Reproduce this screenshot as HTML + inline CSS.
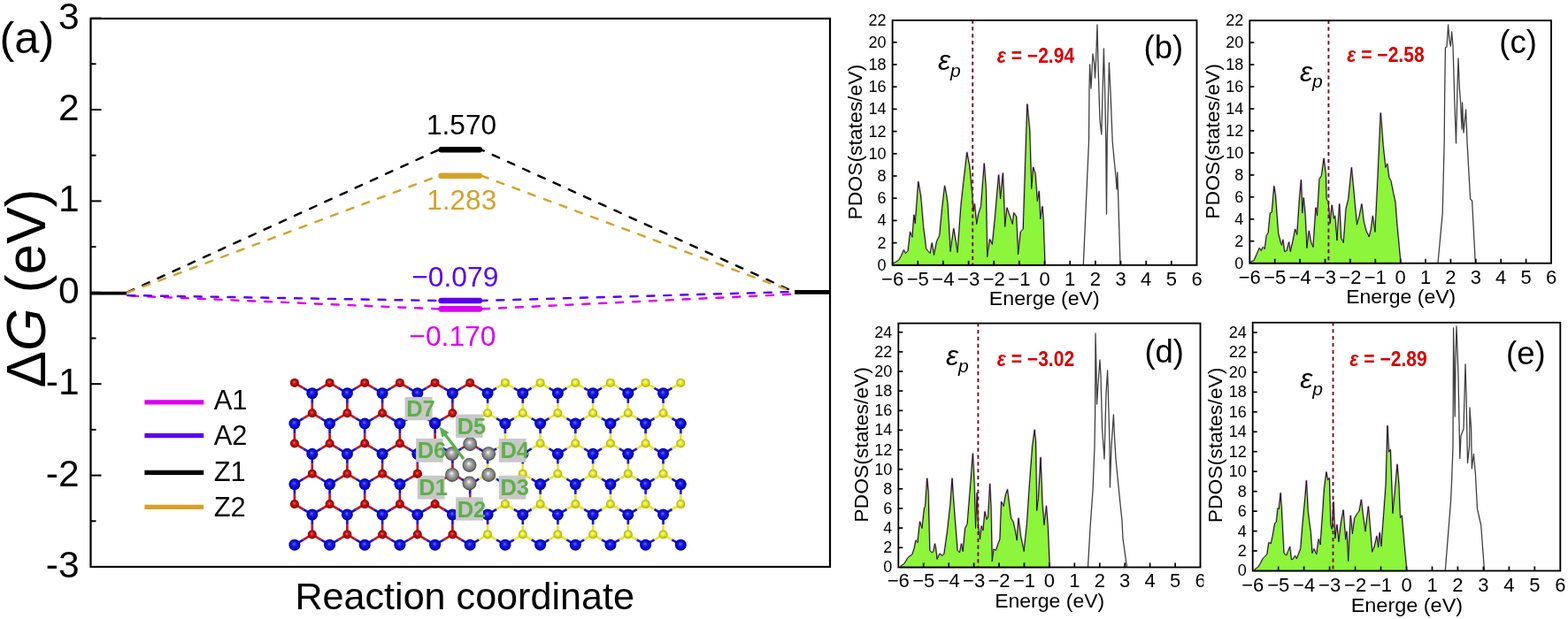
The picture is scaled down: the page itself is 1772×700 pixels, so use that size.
<!DOCTYPE html>
<html><head><meta charset="utf-8"><style>
html,body{margin:0;padding:0;background:#fff;overflow:hidden;}
svg{display:block;}
</style></head><body>
<svg width="1772" height="700" viewBox="0 0 1772 700" font-family="'Liberation Sans', Arial, sans-serif">
<defs>
<radialGradient id="gb" cx="50%" cy="50%" r="50%" fx="45%" fy="40%">
 <stop offset="0" stop-color="#7070ff"/><stop offset="0.35" stop-color="#1a1aee"/><stop offset="1" stop-color="#0000a0"/></radialGradient>
<radialGradient id="gr" cx="50%" cy="50%" r="50%" fx="45%" fy="40%">
 <stop offset="0" stop-color="#f07070"/><stop offset="0.35" stop-color="#cc1818"/><stop offset="1" stop-color="#8a0000"/></radialGradient>
<radialGradient id="gy" cx="50%" cy="50%" r="50%" fx="45%" fy="40%">
 <stop offset="0" stop-color="#ffffb0"/><stop offset="0.35" stop-color="#f0f040"/><stop offset="1" stop-color="#b0b000"/></radialGradient>
<radialGradient id="gg" cx="50%" cy="50%" r="50%" fx="45%" fy="38%">
 <stop offset="0" stop-color="#ffffff"/><stop offset="0.3" stop-color="#b4b4b4"/><stop offset="0.8" stop-color="#787878"/><stop offset="1" stop-color="#3c3c3c"/></radialGradient>
<clipPath id="clipd6"><rect x="1300" y="640" width="60.3" height="60"/></clipPath></defs>
<rect width="1772" height="700" fill="#fff"/>
<line x1="143.0" y1="331.0" x2="496.0" y2="169.3" stroke="#000000" stroke-width="2.45" stroke-dasharray="8 10.9" stroke-dashoffset="-1.1" stroke-linecap="round"/>
<line x1="544.0" y1="169.3" x2="898.0" y2="330.3" stroke="#000000" stroke-width="2.45" stroke-dasharray="8 10.9" stroke-dashoffset="4.9" stroke-linecap="round"/>
<line x1="143.0" y1="331.2" x2="496.0" y2="198.7" stroke="#D6A12B" stroke-width="2.45" stroke-dasharray="8 10.9" stroke-dashoffset="-1.1" stroke-linecap="round"/>
<line x1="544.0" y1="198.7" x2="898.0" y2="330.6" stroke="#D6A12B" stroke-width="2.45" stroke-dasharray="8 10.9" stroke-dashoffset="0" stroke-linecap="round"/>
<line x1="143.0" y1="334.3" x2="496.0" y2="349.4" stroke="#DC00F5" stroke-width="2.45" stroke-dasharray="8 10.9" stroke-dashoffset="-5.1" stroke-linecap="round"/>
<line x1="544.0" y1="349.4" x2="898.0" y2="332.6" stroke="#DC00F5" stroke-width="2.45" stroke-dasharray="8 10.9" stroke-dashoffset="-1.1" stroke-linecap="round"/>
<line x1="143.0" y1="334.0" x2="496.0" y2="340.0" stroke="#5A00F2" stroke-width="2.45" stroke-dasharray="8 10.9" stroke-dashoffset="-1.1" stroke-linecap="round"/>
<line x1="544.0" y1="340.0" x2="898.0" y2="329.9" stroke="#5A00F2" stroke-width="2.45" stroke-dasharray="8 10.9" stroke-dashoffset="1.5" stroke-linecap="round"/>
<line x1="498.7" y1="169.3" x2="541.8" y2="169.3" stroke="#000000" stroke-width="6.6" stroke-linecap="round"/>
<line x1="498.7" y1="198.7" x2="541.8" y2="198.7" stroke="#D6A12B" stroke-width="6.6" stroke-linecap="round"/>
<line x1="498.7" y1="349.4" x2="541.8" y2="349.4" stroke="#DC00F5" stroke-width="6.6" stroke-linecap="round"/>
<line x1="498.7" y1="340.0" x2="541.8" y2="340.0" stroke="#5A00F2" stroke-width="6.6" stroke-linecap="round"/>
<line x1="102.5" y1="331.6" x2="143.0" y2="331.6" stroke="#000" stroke-width="3.8"/>
<line x1="898.0" y1="330.4" x2="938.0" y2="330.4" stroke="#000" stroke-width="4.8"/>
<rect x="102.5" y="21.0" width="835.5" height="620.0" fill="none" stroke="#000" stroke-width="2.2"/>
<line x1="102.5" y1="641.0" x2="114.5" y2="641.0" stroke="#000" stroke-width="2"/>
<line x1="102.5" y1="589.3" x2="108.5" y2="589.3" stroke="#000" stroke-width="2"/>
<line x1="102.5" y1="537.6" x2="114.5" y2="537.6" stroke="#000" stroke-width="2"/>
<line x1="102.5" y1="485.9" x2="108.5" y2="485.9" stroke="#000" stroke-width="2"/>
<line x1="102.5" y1="434.2" x2="114.5" y2="434.2" stroke="#000" stroke-width="2"/>
<line x1="102.5" y1="382.5" x2="108.5" y2="382.5" stroke="#000" stroke-width="2"/>
<line x1="102.5" y1="330.8" x2="114.5" y2="330.8" stroke="#000" stroke-width="2"/>
<line x1="102.5" y1="279.1" x2="108.5" y2="279.1" stroke="#000" stroke-width="2"/>
<line x1="102.5" y1="227.4" x2="114.5" y2="227.4" stroke="#000" stroke-width="2"/>
<line x1="102.5" y1="175.7" x2="108.5" y2="175.7" stroke="#000" stroke-width="2"/>
<line x1="102.5" y1="124.0" x2="114.5" y2="124.0" stroke="#000" stroke-width="2"/>
<line x1="102.5" y1="72.3" x2="108.5" y2="72.3" stroke="#000" stroke-width="2"/>
<line x1="102.5" y1="20.6" x2="114.5" y2="20.6" stroke="#000" stroke-width="2"/>
<text x="89.6" y="653.0" font-size="42.5" text-anchor="end">-3</text>
<text x="89.6" y="549.6" font-size="42.5" text-anchor="end">-2</text>
<text x="89.6" y="446.2" font-size="42.5" text-anchor="end">-1</text>
<text x="89.6" y="342.8" font-size="42.5" text-anchor="end">0</text>
<text x="89.6" y="239.4" font-size="42.5" text-anchor="end">1</text>
<text x="89.6" y="136.0" font-size="42.5" text-anchor="end">2</text>
<text x="89.6" y="32.6" font-size="42.5" text-anchor="end">3</text>
<text x="-0.5" y="60" font-size="50.5">(a)</text>
<text transform="translate(51.4,326) rotate(-90)" font-size="62.3" text-anchor="middle">Δ<tspan font-style="italic">G</tspan> (eV)</text>
<text x="525.2" y="689.4" font-size="42.8" text-anchor="middle" textLength="383.5" lengthAdjust="spacingAndGlyphs">Reaction coordinate</text>
<text x="521.5" y="152" font-size="31.6" text-anchor="middle">1.570</text>
<text x="521.7" y="236.6" font-size="31.6" text-anchor="middle" fill="#D6A12B">1.283</text>
<text x="514.3" y="324.4" font-size="31.8" text-anchor="middle" fill="#5A00F2">−0.079</text>
<text x="511.4" y="391.3" font-size="31.8" text-anchor="middle" fill="#DC00F5">−0.170</text>
<line x1="163.4" y1="454.8" x2="230.2" y2="454.8" stroke="#DC00F5" stroke-width="5.3"/>
<text x="241.8" y="463" font-size="30.8">A1</text>
<line x1="163.4" y1="492.7" x2="230.2" y2="492.7" stroke="#5A00F2" stroke-width="5.3"/>
<text x="241.8" y="503" font-size="30.8">A2</text>
<line x1="163.4" y1="534.4" x2="230.2" y2="534.4" stroke="#000" stroke-width="5.3"/>
<text x="241.8" y="544.2" font-size="30.8">Z1</text>
<line x1="163.4" y1="573.3" x2="230.2" y2="573.3" stroke="#D6A12B" stroke-width="5.3"/>
<text x="241.8" y="584.2" font-size="30.8">Z2</text>
<line x1="332.9" y1="432.9" x2="342.8" y2="438.8" stroke="#C81414" stroke-width="2.7"/>
<line x1="342.8" y1="438.8" x2="352.8" y2="444.7" stroke="#1414E6" stroke-width="2.7"/>
<line x1="372.6" y1="432.9" x2="362.7" y2="438.8" stroke="#C81414" stroke-width="2.7"/>
<line x1="362.7" y1="438.8" x2="352.8" y2="444.7" stroke="#1414E6" stroke-width="2.7"/>
<line x1="372.6" y1="432.9" x2="382.5" y2="438.8" stroke="#C81414" stroke-width="2.7"/>
<line x1="382.5" y1="438.8" x2="392.4" y2="444.7" stroke="#1414E6" stroke-width="2.7"/>
<line x1="412.2" y1="432.9" x2="402.3" y2="438.8" stroke="#C81414" stroke-width="2.7"/>
<line x1="402.3" y1="438.8" x2="392.4" y2="444.7" stroke="#1414E6" stroke-width="2.7"/>
<line x1="412.2" y1="432.9" x2="422.2" y2="438.8" stroke="#C81414" stroke-width="2.7"/>
<line x1="422.2" y1="438.8" x2="432.1" y2="444.7" stroke="#1414E6" stroke-width="2.7"/>
<line x1="451.9" y1="432.9" x2="442.0" y2="438.8" stroke="#C81414" stroke-width="2.7"/>
<line x1="442.0" y1="438.8" x2="432.1" y2="444.7" stroke="#1414E6" stroke-width="2.7"/>
<line x1="451.9" y1="432.9" x2="461.8" y2="438.8" stroke="#C81414" stroke-width="2.7"/>
<line x1="461.8" y1="438.8" x2="471.8" y2="444.7" stroke="#1414E6" stroke-width="2.7"/>
<line x1="491.6" y1="432.9" x2="481.7" y2="438.8" stroke="#C81414" stroke-width="2.7"/>
<line x1="481.7" y1="438.8" x2="471.8" y2="444.7" stroke="#1414E6" stroke-width="2.7"/>
<line x1="491.6" y1="432.9" x2="501.5" y2="438.8" stroke="#C81414" stroke-width="2.7"/>
<line x1="501.5" y1="438.8" x2="511.4" y2="444.7" stroke="#1414E6" stroke-width="2.7"/>
<line x1="531.2" y1="432.9" x2="521.3" y2="438.8" stroke="#C81414" stroke-width="2.7"/>
<line x1="521.3" y1="438.8" x2="511.4" y2="444.7" stroke="#1414E6" stroke-width="2.7"/>
<line x1="531.2" y1="432.9" x2="541.2" y2="438.8" stroke="#C81414" stroke-width="2.7"/>
<line x1="541.2" y1="438.8" x2="551.1" y2="444.7" stroke="#1414E6" stroke-width="2.7"/>
<line x1="570.9" y1="432.9" x2="561.0" y2="438.8" stroke="#E6E632" stroke-width="2.7"/>
<line x1="561.0" y1="438.8" x2="551.1" y2="444.7" stroke="#1414E6" stroke-width="2.7"/>
<line x1="570.9" y1="432.9" x2="580.8" y2="438.8" stroke="#E6E632" stroke-width="2.7"/>
<line x1="580.8" y1="438.8" x2="590.8" y2="444.7" stroke="#1414E6" stroke-width="2.7"/>
<line x1="610.6" y1="432.9" x2="600.7" y2="438.8" stroke="#E6E632" stroke-width="2.7"/>
<line x1="600.7" y1="438.8" x2="590.8" y2="444.7" stroke="#1414E6" stroke-width="2.7"/>
<line x1="610.6" y1="432.9" x2="620.5" y2="438.8" stroke="#E6E632" stroke-width="2.7"/>
<line x1="620.5" y1="438.8" x2="630.4" y2="444.7" stroke="#1414E6" stroke-width="2.7"/>
<line x1="650.3" y1="432.9" x2="640.4" y2="438.8" stroke="#E6E632" stroke-width="2.7"/>
<line x1="640.4" y1="438.8" x2="630.4" y2="444.7" stroke="#1414E6" stroke-width="2.7"/>
<line x1="650.3" y1="432.9" x2="660.2" y2="438.8" stroke="#E6E632" stroke-width="2.7"/>
<line x1="660.2" y1="438.8" x2="670.1" y2="444.7" stroke="#1414E6" stroke-width="2.7"/>
<line x1="689.9" y1="432.9" x2="680.0" y2="438.8" stroke="#E6E632" stroke-width="2.7"/>
<line x1="680.0" y1="438.8" x2="670.1" y2="444.7" stroke="#1414E6" stroke-width="2.7"/>
<line x1="689.9" y1="432.9" x2="699.9" y2="438.8" stroke="#E6E632" stroke-width="2.7"/>
<line x1="699.9" y1="438.8" x2="709.8" y2="444.7" stroke="#1414E6" stroke-width="2.7"/>
<line x1="729.6" y1="432.9" x2="719.7" y2="438.8" stroke="#E6E632" stroke-width="2.7"/>
<line x1="719.7" y1="438.8" x2="709.8" y2="444.7" stroke="#1414E6" stroke-width="2.7"/>
<line x1="729.6" y1="432.9" x2="739.5" y2="438.8" stroke="#E6E632" stroke-width="2.7"/>
<line x1="739.5" y1="438.8" x2="749.5" y2="444.7" stroke="#1414E6" stroke-width="2.7"/>
<line x1="769.3" y1="432.9" x2="759.4" y2="438.8" stroke="#E6E632" stroke-width="2.7"/>
<line x1="759.4" y1="438.8" x2="749.5" y2="444.7" stroke="#1414E6" stroke-width="2.7"/>
<line x1="352.8" y1="467.2" x2="352.8" y2="455.9" stroke="#C81414" stroke-width="2.7"/>
<line x1="352.8" y1="455.9" x2="352.8" y2="444.7" stroke="#1414E6" stroke-width="2.7"/>
<line x1="352.8" y1="467.2" x2="342.8" y2="473.1" stroke="#C81414" stroke-width="2.7"/>
<line x1="342.8" y1="473.1" x2="332.9" y2="479.0" stroke="#1414E6" stroke-width="2.7"/>
<line x1="352.8" y1="467.2" x2="362.7" y2="473.1" stroke="#C81414" stroke-width="2.7"/>
<line x1="362.7" y1="473.1" x2="372.6" y2="479.0" stroke="#1414E6" stroke-width="2.7"/>
<line x1="392.4" y1="467.2" x2="392.4" y2="455.9" stroke="#C81414" stroke-width="2.7"/>
<line x1="392.4" y1="455.9" x2="392.4" y2="444.7" stroke="#1414E6" stroke-width="2.7"/>
<line x1="392.4" y1="467.2" x2="382.5" y2="473.1" stroke="#C81414" stroke-width="2.7"/>
<line x1="382.5" y1="473.1" x2="372.6" y2="479.0" stroke="#1414E6" stroke-width="2.7"/>
<line x1="392.4" y1="467.2" x2="402.3" y2="473.1" stroke="#C81414" stroke-width="2.7"/>
<line x1="402.3" y1="473.1" x2="412.2" y2="479.0" stroke="#1414E6" stroke-width="2.7"/>
<line x1="432.1" y1="467.2" x2="432.1" y2="455.9" stroke="#C81414" stroke-width="2.7"/>
<line x1="432.1" y1="455.9" x2="432.1" y2="444.7" stroke="#1414E6" stroke-width="2.7"/>
<line x1="432.1" y1="467.2" x2="422.2" y2="473.1" stroke="#C81414" stroke-width="2.7"/>
<line x1="422.2" y1="473.1" x2="412.2" y2="479.0" stroke="#1414E6" stroke-width="2.7"/>
<line x1="432.1" y1="467.2" x2="442.0" y2="473.1" stroke="#C81414" stroke-width="2.7"/>
<line x1="442.0" y1="473.1" x2="451.9" y2="479.0" stroke="#1414E6" stroke-width="2.7"/>
<line x1="471.8" y1="467.2" x2="471.8" y2="455.9" stroke="#C81414" stroke-width="2.7"/>
<line x1="471.8" y1="455.9" x2="471.8" y2="444.7" stroke="#1414E6" stroke-width="2.7"/>
<line x1="471.8" y1="467.2" x2="461.8" y2="473.1" stroke="#C81414" stroke-width="2.7"/>
<line x1="461.8" y1="473.1" x2="451.9" y2="479.0" stroke="#1414E6" stroke-width="2.7"/>
<line x1="471.8" y1="467.2" x2="481.7" y2="473.1" stroke="#C81414" stroke-width="2.7"/>
<line x1="481.7" y1="473.1" x2="491.6" y2="479.0" stroke="#1414E6" stroke-width="2.7"/>
<line x1="511.4" y1="467.2" x2="511.4" y2="455.9" stroke="#C81414" stroke-width="2.7"/>
<line x1="511.4" y1="455.9" x2="511.4" y2="444.7" stroke="#1414E6" stroke-width="2.7"/>
<line x1="511.4" y1="467.2" x2="501.5" y2="473.1" stroke="#C81414" stroke-width="2.7"/>
<line x1="501.5" y1="473.1" x2="491.6" y2="479.0" stroke="#1414E6" stroke-width="2.7"/>
<line x1="511.4" y1="467.2" x2="521.3" y2="473.1" stroke="#C81414" stroke-width="2.7"/>
<line x1="521.3" y1="473.1" x2="531.2" y2="479.0" stroke="#1414E6" stroke-width="2.7"/>
<line x1="551.1" y1="467.2" x2="551.1" y2="455.9" stroke="#E6E632" stroke-width="2.7"/>
<line x1="551.1" y1="455.9" x2="551.1" y2="444.7" stroke="#1414E6" stroke-width="2.7"/>
<line x1="551.1" y1="467.2" x2="541.2" y2="473.1" stroke="#E6E632" stroke-width="2.7"/>
<line x1="541.2" y1="473.1" x2="531.2" y2="479.0" stroke="#1414E6" stroke-width="2.7"/>
<line x1="551.1" y1="467.2" x2="561.0" y2="473.1" stroke="#E6E632" stroke-width="2.7"/>
<line x1="561.0" y1="473.1" x2="570.9" y2="479.0" stroke="#1414E6" stroke-width="2.7"/>
<line x1="590.8" y1="467.2" x2="590.8" y2="455.9" stroke="#E6E632" stroke-width="2.7"/>
<line x1="590.8" y1="455.9" x2="590.8" y2="444.7" stroke="#1414E6" stroke-width="2.7"/>
<line x1="590.8" y1="467.2" x2="580.8" y2="473.1" stroke="#E6E632" stroke-width="2.7"/>
<line x1="580.8" y1="473.1" x2="570.9" y2="479.0" stroke="#1414E6" stroke-width="2.7"/>
<line x1="590.8" y1="467.2" x2="600.7" y2="473.1" stroke="#E6E632" stroke-width="2.7"/>
<line x1="600.7" y1="473.1" x2="610.6" y2="479.0" stroke="#1414E6" stroke-width="2.7"/>
<line x1="630.4" y1="467.2" x2="630.4" y2="455.9" stroke="#E6E632" stroke-width="2.7"/>
<line x1="630.4" y1="455.9" x2="630.4" y2="444.7" stroke="#1414E6" stroke-width="2.7"/>
<line x1="630.4" y1="467.2" x2="620.5" y2="473.1" stroke="#E6E632" stroke-width="2.7"/>
<line x1="620.5" y1="473.1" x2="610.6" y2="479.0" stroke="#1414E6" stroke-width="2.7"/>
<line x1="630.4" y1="467.2" x2="640.4" y2="473.1" stroke="#E6E632" stroke-width="2.7"/>
<line x1="640.4" y1="473.1" x2="650.3" y2="479.0" stroke="#1414E6" stroke-width="2.7"/>
<line x1="670.1" y1="467.2" x2="670.1" y2="455.9" stroke="#E6E632" stroke-width="2.7"/>
<line x1="670.1" y1="455.9" x2="670.1" y2="444.7" stroke="#1414E6" stroke-width="2.7"/>
<line x1="670.1" y1="467.2" x2="660.2" y2="473.1" stroke="#E6E632" stroke-width="2.7"/>
<line x1="660.2" y1="473.1" x2="650.3" y2="479.0" stroke="#1414E6" stroke-width="2.7"/>
<line x1="670.1" y1="467.2" x2="680.0" y2="473.1" stroke="#E6E632" stroke-width="2.7"/>
<line x1="680.0" y1="473.1" x2="689.9" y2="479.0" stroke="#1414E6" stroke-width="2.7"/>
<line x1="709.8" y1="467.2" x2="709.8" y2="455.9" stroke="#E6E632" stroke-width="2.7"/>
<line x1="709.8" y1="455.9" x2="709.8" y2="444.7" stroke="#1414E6" stroke-width="2.7"/>
<line x1="709.8" y1="467.2" x2="699.9" y2="473.1" stroke="#E6E632" stroke-width="2.7"/>
<line x1="699.9" y1="473.1" x2="689.9" y2="479.0" stroke="#1414E6" stroke-width="2.7"/>
<line x1="709.8" y1="467.2" x2="719.7" y2="473.1" stroke="#E6E632" stroke-width="2.7"/>
<line x1="719.7" y1="473.1" x2="729.6" y2="479.0" stroke="#1414E6" stroke-width="2.7"/>
<line x1="749.5" y1="467.2" x2="749.5" y2="455.9" stroke="#E6E632" stroke-width="2.7"/>
<line x1="749.5" y1="455.9" x2="749.5" y2="444.7" stroke="#1414E6" stroke-width="2.7"/>
<line x1="749.5" y1="467.2" x2="739.5" y2="473.1" stroke="#E6E632" stroke-width="2.7"/>
<line x1="739.5" y1="473.1" x2="729.6" y2="479.0" stroke="#1414E6" stroke-width="2.7"/>
<line x1="749.5" y1="467.2" x2="759.4" y2="473.1" stroke="#E6E632" stroke-width="2.7"/>
<line x1="759.4" y1="473.1" x2="769.3" y2="479.0" stroke="#1414E6" stroke-width="2.7"/>
<line x1="332.9" y1="501.5" x2="332.9" y2="490.2" stroke="#C81414" stroke-width="2.7"/>
<line x1="332.9" y1="490.2" x2="332.9" y2="479.0" stroke="#1414E6" stroke-width="2.7"/>
<line x1="332.9" y1="501.5" x2="342.8" y2="507.4" stroke="#C81414" stroke-width="2.7"/>
<line x1="342.8" y1="507.4" x2="352.8" y2="513.3" stroke="#1414E6" stroke-width="2.7"/>
<line x1="372.6" y1="501.5" x2="372.6" y2="490.2" stroke="#C81414" stroke-width="2.7"/>
<line x1="372.6" y1="490.2" x2="372.6" y2="479.0" stroke="#1414E6" stroke-width="2.7"/>
<line x1="372.6" y1="501.5" x2="362.7" y2="507.4" stroke="#C81414" stroke-width="2.7"/>
<line x1="362.7" y1="507.4" x2="352.8" y2="513.3" stroke="#1414E6" stroke-width="2.7"/>
<line x1="372.6" y1="501.5" x2="382.5" y2="507.4" stroke="#C81414" stroke-width="2.7"/>
<line x1="382.5" y1="507.4" x2="392.4" y2="513.3" stroke="#1414E6" stroke-width="2.7"/>
<line x1="412.2" y1="501.5" x2="412.2" y2="490.2" stroke="#C81414" stroke-width="2.7"/>
<line x1="412.2" y1="490.2" x2="412.2" y2="479.0" stroke="#1414E6" stroke-width="2.7"/>
<line x1="412.2" y1="501.5" x2="402.3" y2="507.4" stroke="#C81414" stroke-width="2.7"/>
<line x1="402.3" y1="507.4" x2="392.4" y2="513.3" stroke="#1414E6" stroke-width="2.7"/>
<line x1="412.2" y1="501.5" x2="422.2" y2="507.4" stroke="#C81414" stroke-width="2.7"/>
<line x1="422.2" y1="507.4" x2="432.1" y2="513.3" stroke="#1414E6" stroke-width="2.7"/>
<line x1="451.9" y1="501.5" x2="451.9" y2="490.2" stroke="#C81414" stroke-width="2.7"/>
<line x1="451.9" y1="490.2" x2="451.9" y2="479.0" stroke="#1414E6" stroke-width="2.7"/>
<line x1="451.9" y1="501.5" x2="442.0" y2="507.4" stroke="#C81414" stroke-width="2.7"/>
<line x1="442.0" y1="507.4" x2="432.1" y2="513.3" stroke="#1414E6" stroke-width="2.7"/>
<line x1="451.9" y1="501.5" x2="461.8" y2="507.4" stroke="#C81414" stroke-width="2.7"/>
<line x1="461.8" y1="507.4" x2="471.8" y2="513.3" stroke="#1414E6" stroke-width="2.7"/>
<line x1="491.6" y1="501.5" x2="491.6" y2="490.2" stroke="#C81414" stroke-width="2.7"/>
<line x1="491.6" y1="490.2" x2="491.6" y2="479.0" stroke="#1414E6" stroke-width="2.7"/>
<line x1="491.6" y1="501.5" x2="481.7" y2="507.4" stroke="#C81414" stroke-width="2.7"/>
<line x1="481.7" y1="507.4" x2="471.8" y2="513.3" stroke="#1414E6" stroke-width="2.7"/>
<line x1="491.6" y1="501.5" x2="501.5" y2="507.4" stroke="#C81414" stroke-width="2.7"/>
<line x1="501.5" y1="507.4" x2="511.4" y2="513.3" stroke="#1414E6" stroke-width="2.7"/>
<line x1="531.2" y1="501.5" x2="531.2" y2="490.2" stroke="#C81414" stroke-width="2.7"/>
<line x1="531.2" y1="490.2" x2="531.2" y2="479.0" stroke="#1414E6" stroke-width="2.7"/>
<line x1="531.2" y1="501.5" x2="521.3" y2="507.4" stroke="#C81414" stroke-width="2.7"/>
<line x1="521.3" y1="507.4" x2="511.4" y2="513.3" stroke="#1414E6" stroke-width="2.7"/>
<line x1="531.2" y1="501.5" x2="541.2" y2="507.4" stroke="#C81414" stroke-width="2.7"/>
<line x1="541.2" y1="507.4" x2="551.1" y2="513.3" stroke="#1414E6" stroke-width="2.7"/>
<line x1="570.9" y1="501.5" x2="570.9" y2="490.2" stroke="#E6E632" stroke-width="2.7"/>
<line x1="570.9" y1="490.2" x2="570.9" y2="479.0" stroke="#1414E6" stroke-width="2.7"/>
<line x1="570.9" y1="501.5" x2="561.0" y2="507.4" stroke="#E6E632" stroke-width="2.7"/>
<line x1="561.0" y1="507.4" x2="551.1" y2="513.3" stroke="#1414E6" stroke-width="2.7"/>
<line x1="570.9" y1="501.5" x2="580.8" y2="507.4" stroke="#E6E632" stroke-width="2.7"/>
<line x1="580.8" y1="507.4" x2="590.8" y2="513.3" stroke="#1414E6" stroke-width="2.7"/>
<line x1="610.6" y1="501.5" x2="610.6" y2="490.2" stroke="#E6E632" stroke-width="2.7"/>
<line x1="610.6" y1="490.2" x2="610.6" y2="479.0" stroke="#1414E6" stroke-width="2.7"/>
<line x1="610.6" y1="501.5" x2="600.7" y2="507.4" stroke="#E6E632" stroke-width="2.7"/>
<line x1="600.7" y1="507.4" x2="590.8" y2="513.3" stroke="#1414E6" stroke-width="2.7"/>
<line x1="610.6" y1="501.5" x2="620.5" y2="507.4" stroke="#E6E632" stroke-width="2.7"/>
<line x1="620.5" y1="507.4" x2="630.4" y2="513.3" stroke="#1414E6" stroke-width="2.7"/>
<line x1="650.3" y1="501.5" x2="650.3" y2="490.2" stroke="#E6E632" stroke-width="2.7"/>
<line x1="650.3" y1="490.2" x2="650.3" y2="479.0" stroke="#1414E6" stroke-width="2.7"/>
<line x1="650.3" y1="501.5" x2="640.4" y2="507.4" stroke="#E6E632" stroke-width="2.7"/>
<line x1="640.4" y1="507.4" x2="630.4" y2="513.3" stroke="#1414E6" stroke-width="2.7"/>
<line x1="650.3" y1="501.5" x2="660.2" y2="507.4" stroke="#E6E632" stroke-width="2.7"/>
<line x1="660.2" y1="507.4" x2="670.1" y2="513.3" stroke="#1414E6" stroke-width="2.7"/>
<line x1="689.9" y1="501.5" x2="689.9" y2="490.2" stroke="#E6E632" stroke-width="2.7"/>
<line x1="689.9" y1="490.2" x2="689.9" y2="479.0" stroke="#1414E6" stroke-width="2.7"/>
<line x1="689.9" y1="501.5" x2="680.0" y2="507.4" stroke="#E6E632" stroke-width="2.7"/>
<line x1="680.0" y1="507.4" x2="670.1" y2="513.3" stroke="#1414E6" stroke-width="2.7"/>
<line x1="689.9" y1="501.5" x2="699.9" y2="507.4" stroke="#E6E632" stroke-width="2.7"/>
<line x1="699.9" y1="507.4" x2="709.8" y2="513.3" stroke="#1414E6" stroke-width="2.7"/>
<line x1="729.6" y1="501.5" x2="729.6" y2="490.2" stroke="#E6E632" stroke-width="2.7"/>
<line x1="729.6" y1="490.2" x2="729.6" y2="479.0" stroke="#1414E6" stroke-width="2.7"/>
<line x1="729.6" y1="501.5" x2="719.7" y2="507.4" stroke="#E6E632" stroke-width="2.7"/>
<line x1="719.7" y1="507.4" x2="709.8" y2="513.3" stroke="#1414E6" stroke-width="2.7"/>
<line x1="729.6" y1="501.5" x2="739.5" y2="507.4" stroke="#E6E632" stroke-width="2.7"/>
<line x1="739.5" y1="507.4" x2="749.5" y2="513.3" stroke="#1414E6" stroke-width="2.7"/>
<line x1="769.3" y1="501.5" x2="769.3" y2="490.2" stroke="#E6E632" stroke-width="2.7"/>
<line x1="769.3" y1="490.2" x2="769.3" y2="479.0" stroke="#1414E6" stroke-width="2.7"/>
<line x1="769.3" y1="501.5" x2="759.4" y2="507.4" stroke="#E6E632" stroke-width="2.7"/>
<line x1="759.4" y1="507.4" x2="749.5" y2="513.3" stroke="#1414E6" stroke-width="2.7"/>
<line x1="352.8" y1="535.8" x2="352.8" y2="524.5" stroke="#C81414" stroke-width="2.7"/>
<line x1="352.8" y1="524.5" x2="352.8" y2="513.3" stroke="#1414E6" stroke-width="2.7"/>
<line x1="352.8" y1="535.8" x2="342.8" y2="541.7" stroke="#C81414" stroke-width="2.7"/>
<line x1="342.8" y1="541.7" x2="332.9" y2="547.6" stroke="#1414E6" stroke-width="2.7"/>
<line x1="352.8" y1="535.8" x2="362.7" y2="541.7" stroke="#C81414" stroke-width="2.7"/>
<line x1="362.7" y1="541.7" x2="372.6" y2="547.6" stroke="#1414E6" stroke-width="2.7"/>
<line x1="392.4" y1="535.8" x2="392.4" y2="524.5" stroke="#C81414" stroke-width="2.7"/>
<line x1="392.4" y1="524.5" x2="392.4" y2="513.3" stroke="#1414E6" stroke-width="2.7"/>
<line x1="392.4" y1="535.8" x2="382.5" y2="541.7" stroke="#C81414" stroke-width="2.7"/>
<line x1="382.5" y1="541.7" x2="372.6" y2="547.6" stroke="#1414E6" stroke-width="2.7"/>
<line x1="392.4" y1="535.8" x2="402.3" y2="541.7" stroke="#C81414" stroke-width="2.7"/>
<line x1="402.3" y1="541.7" x2="412.2" y2="547.6" stroke="#1414E6" stroke-width="2.7"/>
<line x1="432.1" y1="535.8" x2="432.1" y2="524.5" stroke="#C81414" stroke-width="2.7"/>
<line x1="432.1" y1="524.5" x2="432.1" y2="513.3" stroke="#1414E6" stroke-width="2.7"/>
<line x1="432.1" y1="535.8" x2="422.2" y2="541.7" stroke="#C81414" stroke-width="2.7"/>
<line x1="422.2" y1="541.7" x2="412.2" y2="547.6" stroke="#1414E6" stroke-width="2.7"/>
<line x1="432.1" y1="535.8" x2="442.0" y2="541.7" stroke="#C81414" stroke-width="2.7"/>
<line x1="442.0" y1="541.7" x2="451.9" y2="547.6" stroke="#1414E6" stroke-width="2.7"/>
<line x1="471.8" y1="535.8" x2="471.8" y2="524.5" stroke="#C81414" stroke-width="2.7"/>
<line x1="471.8" y1="524.5" x2="471.8" y2="513.3" stroke="#1414E6" stroke-width="2.7"/>
<line x1="471.8" y1="535.8" x2="461.8" y2="541.7" stroke="#C81414" stroke-width="2.7"/>
<line x1="461.8" y1="541.7" x2="451.9" y2="547.6" stroke="#1414E6" stroke-width="2.7"/>
<line x1="471.8" y1="535.8" x2="481.7" y2="541.7" stroke="#C81414" stroke-width="2.7"/>
<line x1="481.7" y1="541.7" x2="491.6" y2="547.6" stroke="#1414E6" stroke-width="2.7"/>
<line x1="511.4" y1="535.8" x2="511.4" y2="524.5" stroke="#C81414" stroke-width="2.7"/>
<line x1="511.4" y1="524.5" x2="511.4" y2="513.3" stroke="#1414E6" stroke-width="2.7"/>
<line x1="511.4" y1="535.8" x2="501.5" y2="541.7" stroke="#C81414" stroke-width="2.7"/>
<line x1="501.5" y1="541.7" x2="491.6" y2="547.6" stroke="#1414E6" stroke-width="2.7"/>
<line x1="511.4" y1="535.8" x2="521.3" y2="541.7" stroke="#C81414" stroke-width="2.7"/>
<line x1="521.3" y1="541.7" x2="531.2" y2="547.6" stroke="#1414E6" stroke-width="2.7"/>
<line x1="551.1" y1="535.8" x2="551.1" y2="524.5" stroke="#E6E632" stroke-width="2.7"/>
<line x1="551.1" y1="524.5" x2="551.1" y2="513.3" stroke="#1414E6" stroke-width="2.7"/>
<line x1="551.1" y1="535.8" x2="541.2" y2="541.7" stroke="#E6E632" stroke-width="2.7"/>
<line x1="541.2" y1="541.7" x2="531.2" y2="547.6" stroke="#1414E6" stroke-width="2.7"/>
<line x1="551.1" y1="535.8" x2="561.0" y2="541.7" stroke="#E6E632" stroke-width="2.7"/>
<line x1="561.0" y1="541.7" x2="570.9" y2="547.6" stroke="#1414E6" stroke-width="2.7"/>
<line x1="590.8" y1="535.8" x2="590.8" y2="524.5" stroke="#E6E632" stroke-width="2.7"/>
<line x1="590.8" y1="524.5" x2="590.8" y2="513.3" stroke="#1414E6" stroke-width="2.7"/>
<line x1="590.8" y1="535.8" x2="580.8" y2="541.7" stroke="#E6E632" stroke-width="2.7"/>
<line x1="580.8" y1="541.7" x2="570.9" y2="547.6" stroke="#1414E6" stroke-width="2.7"/>
<line x1="590.8" y1="535.8" x2="600.7" y2="541.7" stroke="#E6E632" stroke-width="2.7"/>
<line x1="600.7" y1="541.7" x2="610.6" y2="547.6" stroke="#1414E6" stroke-width="2.7"/>
<line x1="630.4" y1="535.8" x2="630.4" y2="524.5" stroke="#E6E632" stroke-width="2.7"/>
<line x1="630.4" y1="524.5" x2="630.4" y2="513.3" stroke="#1414E6" stroke-width="2.7"/>
<line x1="630.4" y1="535.8" x2="620.5" y2="541.7" stroke="#E6E632" stroke-width="2.7"/>
<line x1="620.5" y1="541.7" x2="610.6" y2="547.6" stroke="#1414E6" stroke-width="2.7"/>
<line x1="630.4" y1="535.8" x2="640.4" y2="541.7" stroke="#E6E632" stroke-width="2.7"/>
<line x1="640.4" y1="541.7" x2="650.3" y2="547.6" stroke="#1414E6" stroke-width="2.7"/>
<line x1="670.1" y1="535.8" x2="670.1" y2="524.5" stroke="#E6E632" stroke-width="2.7"/>
<line x1="670.1" y1="524.5" x2="670.1" y2="513.3" stroke="#1414E6" stroke-width="2.7"/>
<line x1="670.1" y1="535.8" x2="660.2" y2="541.7" stroke="#E6E632" stroke-width="2.7"/>
<line x1="660.2" y1="541.7" x2="650.3" y2="547.6" stroke="#1414E6" stroke-width="2.7"/>
<line x1="670.1" y1="535.8" x2="680.0" y2="541.7" stroke="#E6E632" stroke-width="2.7"/>
<line x1="680.0" y1="541.7" x2="689.9" y2="547.6" stroke="#1414E6" stroke-width="2.7"/>
<line x1="709.8" y1="535.8" x2="709.8" y2="524.5" stroke="#E6E632" stroke-width="2.7"/>
<line x1="709.8" y1="524.5" x2="709.8" y2="513.3" stroke="#1414E6" stroke-width="2.7"/>
<line x1="709.8" y1="535.8" x2="699.9" y2="541.7" stroke="#E6E632" stroke-width="2.7"/>
<line x1="699.9" y1="541.7" x2="689.9" y2="547.6" stroke="#1414E6" stroke-width="2.7"/>
<line x1="709.8" y1="535.8" x2="719.7" y2="541.7" stroke="#E6E632" stroke-width="2.7"/>
<line x1="719.7" y1="541.7" x2="729.6" y2="547.6" stroke="#1414E6" stroke-width="2.7"/>
<line x1="749.5" y1="535.8" x2="749.5" y2="524.5" stroke="#E6E632" stroke-width="2.7"/>
<line x1="749.5" y1="524.5" x2="749.5" y2="513.3" stroke="#1414E6" stroke-width="2.7"/>
<line x1="749.5" y1="535.8" x2="739.5" y2="541.7" stroke="#E6E632" stroke-width="2.7"/>
<line x1="739.5" y1="541.7" x2="729.6" y2="547.6" stroke="#1414E6" stroke-width="2.7"/>
<line x1="749.5" y1="535.8" x2="759.4" y2="541.7" stroke="#E6E632" stroke-width="2.7"/>
<line x1="759.4" y1="541.7" x2="769.3" y2="547.6" stroke="#1414E6" stroke-width="2.7"/>
<line x1="332.9" y1="570.1" x2="332.9" y2="558.8" stroke="#C81414" stroke-width="2.7"/>
<line x1="332.9" y1="558.8" x2="332.9" y2="547.6" stroke="#1414E6" stroke-width="2.7"/>
<line x1="332.9" y1="570.1" x2="342.8" y2="576.0" stroke="#C81414" stroke-width="2.7"/>
<line x1="342.8" y1="576.0" x2="352.8" y2="581.9" stroke="#1414E6" stroke-width="2.7"/>
<line x1="372.6" y1="570.1" x2="372.6" y2="558.8" stroke="#C81414" stroke-width="2.7"/>
<line x1="372.6" y1="558.8" x2="372.6" y2="547.6" stroke="#1414E6" stroke-width="2.7"/>
<line x1="372.6" y1="570.1" x2="362.7" y2="576.0" stroke="#C81414" stroke-width="2.7"/>
<line x1="362.7" y1="576.0" x2="352.8" y2="581.9" stroke="#1414E6" stroke-width="2.7"/>
<line x1="372.6" y1="570.1" x2="382.5" y2="576.0" stroke="#C81414" stroke-width="2.7"/>
<line x1="382.5" y1="576.0" x2="392.4" y2="581.9" stroke="#1414E6" stroke-width="2.7"/>
<line x1="412.2" y1="570.1" x2="412.2" y2="558.8" stroke="#C81414" stroke-width="2.7"/>
<line x1="412.2" y1="558.8" x2="412.2" y2="547.6" stroke="#1414E6" stroke-width="2.7"/>
<line x1="412.2" y1="570.1" x2="402.3" y2="576.0" stroke="#C81414" stroke-width="2.7"/>
<line x1="402.3" y1="576.0" x2="392.4" y2="581.9" stroke="#1414E6" stroke-width="2.7"/>
<line x1="412.2" y1="570.1" x2="422.2" y2="576.0" stroke="#C81414" stroke-width="2.7"/>
<line x1="422.2" y1="576.0" x2="432.1" y2="581.9" stroke="#1414E6" stroke-width="2.7"/>
<line x1="451.9" y1="570.1" x2="451.9" y2="558.8" stroke="#C81414" stroke-width="2.7"/>
<line x1="451.9" y1="558.8" x2="451.9" y2="547.6" stroke="#1414E6" stroke-width="2.7"/>
<line x1="451.9" y1="570.1" x2="442.0" y2="576.0" stroke="#C81414" stroke-width="2.7"/>
<line x1="442.0" y1="576.0" x2="432.1" y2="581.9" stroke="#1414E6" stroke-width="2.7"/>
<line x1="451.9" y1="570.1" x2="461.8" y2="576.0" stroke="#C81414" stroke-width="2.7"/>
<line x1="461.8" y1="576.0" x2="471.8" y2="581.9" stroke="#1414E6" stroke-width="2.7"/>
<line x1="491.6" y1="570.1" x2="491.6" y2="558.8" stroke="#C81414" stroke-width="2.7"/>
<line x1="491.6" y1="558.8" x2="491.6" y2="547.6" stroke="#1414E6" stroke-width="2.7"/>
<line x1="491.6" y1="570.1" x2="481.7" y2="576.0" stroke="#C81414" stroke-width="2.7"/>
<line x1="481.7" y1="576.0" x2="471.8" y2="581.9" stroke="#1414E6" stroke-width="2.7"/>
<line x1="491.6" y1="570.1" x2="501.5" y2="576.0" stroke="#C81414" stroke-width="2.7"/>
<line x1="501.5" y1="576.0" x2="511.4" y2="581.9" stroke="#1414E6" stroke-width="2.7"/>
<line x1="531.2" y1="570.1" x2="531.2" y2="558.8" stroke="#C81414" stroke-width="2.7"/>
<line x1="531.2" y1="558.8" x2="531.2" y2="547.6" stroke="#1414E6" stroke-width="2.7"/>
<line x1="531.2" y1="570.1" x2="521.3" y2="576.0" stroke="#C81414" stroke-width="2.7"/>
<line x1="521.3" y1="576.0" x2="511.4" y2="581.9" stroke="#1414E6" stroke-width="2.7"/>
<line x1="531.2" y1="570.1" x2="541.2" y2="576.0" stroke="#C81414" stroke-width="2.7"/>
<line x1="541.2" y1="576.0" x2="551.1" y2="581.9" stroke="#1414E6" stroke-width="2.7"/>
<line x1="570.9" y1="570.1" x2="570.9" y2="558.8" stroke="#E6E632" stroke-width="2.7"/>
<line x1="570.9" y1="558.8" x2="570.9" y2="547.6" stroke="#1414E6" stroke-width="2.7"/>
<line x1="570.9" y1="570.1" x2="561.0" y2="576.0" stroke="#E6E632" stroke-width="2.7"/>
<line x1="561.0" y1="576.0" x2="551.1" y2="581.9" stroke="#1414E6" stroke-width="2.7"/>
<line x1="570.9" y1="570.1" x2="580.8" y2="576.0" stroke="#E6E632" stroke-width="2.7"/>
<line x1="580.8" y1="576.0" x2="590.8" y2="581.9" stroke="#1414E6" stroke-width="2.7"/>
<line x1="610.6" y1="570.1" x2="610.6" y2="558.8" stroke="#E6E632" stroke-width="2.7"/>
<line x1="610.6" y1="558.8" x2="610.6" y2="547.6" stroke="#1414E6" stroke-width="2.7"/>
<line x1="610.6" y1="570.1" x2="600.7" y2="576.0" stroke="#E6E632" stroke-width="2.7"/>
<line x1="600.7" y1="576.0" x2="590.8" y2="581.9" stroke="#1414E6" stroke-width="2.7"/>
<line x1="610.6" y1="570.1" x2="620.5" y2="576.0" stroke="#E6E632" stroke-width="2.7"/>
<line x1="620.5" y1="576.0" x2="630.4" y2="581.9" stroke="#1414E6" stroke-width="2.7"/>
<line x1="650.3" y1="570.1" x2="650.3" y2="558.8" stroke="#E6E632" stroke-width="2.7"/>
<line x1="650.3" y1="558.8" x2="650.3" y2="547.6" stroke="#1414E6" stroke-width="2.7"/>
<line x1="650.3" y1="570.1" x2="640.4" y2="576.0" stroke="#E6E632" stroke-width="2.7"/>
<line x1="640.4" y1="576.0" x2="630.4" y2="581.9" stroke="#1414E6" stroke-width="2.7"/>
<line x1="650.3" y1="570.1" x2="660.2" y2="576.0" stroke="#E6E632" stroke-width="2.7"/>
<line x1="660.2" y1="576.0" x2="670.1" y2="581.9" stroke="#1414E6" stroke-width="2.7"/>
<line x1="689.9" y1="570.1" x2="689.9" y2="558.8" stroke="#E6E632" stroke-width="2.7"/>
<line x1="689.9" y1="558.8" x2="689.9" y2="547.6" stroke="#1414E6" stroke-width="2.7"/>
<line x1="689.9" y1="570.1" x2="680.0" y2="576.0" stroke="#E6E632" stroke-width="2.7"/>
<line x1="680.0" y1="576.0" x2="670.1" y2="581.9" stroke="#1414E6" stroke-width="2.7"/>
<line x1="689.9" y1="570.1" x2="699.9" y2="576.0" stroke="#E6E632" stroke-width="2.7"/>
<line x1="699.9" y1="576.0" x2="709.8" y2="581.9" stroke="#1414E6" stroke-width="2.7"/>
<line x1="729.6" y1="570.1" x2="729.6" y2="558.8" stroke="#E6E632" stroke-width="2.7"/>
<line x1="729.6" y1="558.8" x2="729.6" y2="547.6" stroke="#1414E6" stroke-width="2.7"/>
<line x1="729.6" y1="570.1" x2="719.7" y2="576.0" stroke="#E6E632" stroke-width="2.7"/>
<line x1="719.7" y1="576.0" x2="709.8" y2="581.9" stroke="#1414E6" stroke-width="2.7"/>
<line x1="729.6" y1="570.1" x2="739.5" y2="576.0" stroke="#E6E632" stroke-width="2.7"/>
<line x1="739.5" y1="576.0" x2="749.5" y2="581.9" stroke="#1414E6" stroke-width="2.7"/>
<line x1="769.3" y1="570.1" x2="769.3" y2="558.8" stroke="#E6E632" stroke-width="2.7"/>
<line x1="769.3" y1="558.8" x2="769.3" y2="547.6" stroke="#1414E6" stroke-width="2.7"/>
<line x1="769.3" y1="570.1" x2="759.4" y2="576.0" stroke="#E6E632" stroke-width="2.7"/>
<line x1="759.4" y1="576.0" x2="749.5" y2="581.9" stroke="#1414E6" stroke-width="2.7"/>
<line x1="352.8" y1="604.4" x2="352.8" y2="593.1" stroke="#C81414" stroke-width="2.7"/>
<line x1="352.8" y1="593.1" x2="352.8" y2="581.9" stroke="#1414E6" stroke-width="2.7"/>
<line x1="352.8" y1="604.4" x2="342.8" y2="610.3" stroke="#C81414" stroke-width="2.7"/>
<line x1="342.8" y1="610.3" x2="332.9" y2="616.2" stroke="#1414E6" stroke-width="2.7"/>
<line x1="352.8" y1="604.4" x2="362.7" y2="610.3" stroke="#C81414" stroke-width="2.7"/>
<line x1="362.7" y1="610.3" x2="372.6" y2="616.2" stroke="#1414E6" stroke-width="2.7"/>
<line x1="392.4" y1="604.4" x2="392.4" y2="593.1" stroke="#C81414" stroke-width="2.7"/>
<line x1="392.4" y1="593.1" x2="392.4" y2="581.9" stroke="#1414E6" stroke-width="2.7"/>
<line x1="392.4" y1="604.4" x2="382.5" y2="610.3" stroke="#C81414" stroke-width="2.7"/>
<line x1="382.5" y1="610.3" x2="372.6" y2="616.2" stroke="#1414E6" stroke-width="2.7"/>
<line x1="392.4" y1="604.4" x2="402.3" y2="610.3" stroke="#C81414" stroke-width="2.7"/>
<line x1="402.3" y1="610.3" x2="412.2" y2="616.2" stroke="#1414E6" stroke-width="2.7"/>
<line x1="432.1" y1="604.4" x2="432.1" y2="593.1" stroke="#C81414" stroke-width="2.7"/>
<line x1="432.1" y1="593.1" x2="432.1" y2="581.9" stroke="#1414E6" stroke-width="2.7"/>
<line x1="432.1" y1="604.4" x2="422.2" y2="610.3" stroke="#C81414" stroke-width="2.7"/>
<line x1="422.2" y1="610.3" x2="412.2" y2="616.2" stroke="#1414E6" stroke-width="2.7"/>
<line x1="432.1" y1="604.4" x2="442.0" y2="610.3" stroke="#C81414" stroke-width="2.7"/>
<line x1="442.0" y1="610.3" x2="451.9" y2="616.2" stroke="#1414E6" stroke-width="2.7"/>
<line x1="471.8" y1="604.4" x2="471.8" y2="593.1" stroke="#C81414" stroke-width="2.7"/>
<line x1="471.8" y1="593.1" x2="471.8" y2="581.9" stroke="#1414E6" stroke-width="2.7"/>
<line x1="471.8" y1="604.4" x2="461.8" y2="610.3" stroke="#C81414" stroke-width="2.7"/>
<line x1="461.8" y1="610.3" x2="451.9" y2="616.2" stroke="#1414E6" stroke-width="2.7"/>
<line x1="471.8" y1="604.4" x2="481.7" y2="610.3" stroke="#C81414" stroke-width="2.7"/>
<line x1="481.7" y1="610.3" x2="491.6" y2="616.2" stroke="#1414E6" stroke-width="2.7"/>
<line x1="511.4" y1="604.4" x2="511.4" y2="593.1" stroke="#C81414" stroke-width="2.7"/>
<line x1="511.4" y1="593.1" x2="511.4" y2="581.9" stroke="#1414E6" stroke-width="2.7"/>
<line x1="511.4" y1="604.4" x2="501.5" y2="610.3" stroke="#C81414" stroke-width="2.7"/>
<line x1="501.5" y1="610.3" x2="491.6" y2="616.2" stroke="#1414E6" stroke-width="2.7"/>
<line x1="511.4" y1="604.4" x2="521.3" y2="610.3" stroke="#C81414" stroke-width="2.7"/>
<line x1="521.3" y1="610.3" x2="531.2" y2="616.2" stroke="#1414E6" stroke-width="2.7"/>
<line x1="551.1" y1="604.4" x2="551.1" y2="593.1" stroke="#E6E632" stroke-width="2.7"/>
<line x1="551.1" y1="593.1" x2="551.1" y2="581.9" stroke="#1414E6" stroke-width="2.7"/>
<line x1="551.1" y1="604.4" x2="541.2" y2="610.3" stroke="#E6E632" stroke-width="2.7"/>
<line x1="541.2" y1="610.3" x2="531.2" y2="616.2" stroke="#1414E6" stroke-width="2.7"/>
<line x1="551.1" y1="604.4" x2="561.0" y2="610.3" stroke="#E6E632" stroke-width="2.7"/>
<line x1="561.0" y1="610.3" x2="570.9" y2="616.2" stroke="#1414E6" stroke-width="2.7"/>
<line x1="590.8" y1="604.4" x2="590.8" y2="593.1" stroke="#E6E632" stroke-width="2.7"/>
<line x1="590.8" y1="593.1" x2="590.8" y2="581.9" stroke="#1414E6" stroke-width="2.7"/>
<line x1="590.8" y1="604.4" x2="580.8" y2="610.3" stroke="#E6E632" stroke-width="2.7"/>
<line x1="580.8" y1="610.3" x2="570.9" y2="616.2" stroke="#1414E6" stroke-width="2.7"/>
<line x1="590.8" y1="604.4" x2="600.7" y2="610.3" stroke="#E6E632" stroke-width="2.7"/>
<line x1="600.7" y1="610.3" x2="610.6" y2="616.2" stroke="#1414E6" stroke-width="2.7"/>
<line x1="630.4" y1="604.4" x2="630.4" y2="593.1" stroke="#E6E632" stroke-width="2.7"/>
<line x1="630.4" y1="593.1" x2="630.4" y2="581.9" stroke="#1414E6" stroke-width="2.7"/>
<line x1="630.4" y1="604.4" x2="620.5" y2="610.3" stroke="#E6E632" stroke-width="2.7"/>
<line x1="620.5" y1="610.3" x2="610.6" y2="616.2" stroke="#1414E6" stroke-width="2.7"/>
<line x1="630.4" y1="604.4" x2="640.4" y2="610.3" stroke="#E6E632" stroke-width="2.7"/>
<line x1="640.4" y1="610.3" x2="650.3" y2="616.2" stroke="#1414E6" stroke-width="2.7"/>
<line x1="670.1" y1="604.4" x2="670.1" y2="593.1" stroke="#E6E632" stroke-width="2.7"/>
<line x1="670.1" y1="593.1" x2="670.1" y2="581.9" stroke="#1414E6" stroke-width="2.7"/>
<line x1="670.1" y1="604.4" x2="660.2" y2="610.3" stroke="#E6E632" stroke-width="2.7"/>
<line x1="660.2" y1="610.3" x2="650.3" y2="616.2" stroke="#1414E6" stroke-width="2.7"/>
<line x1="670.1" y1="604.4" x2="680.0" y2="610.3" stroke="#E6E632" stroke-width="2.7"/>
<line x1="680.0" y1="610.3" x2="689.9" y2="616.2" stroke="#1414E6" stroke-width="2.7"/>
<line x1="709.8" y1="604.4" x2="709.8" y2="593.1" stroke="#E6E632" stroke-width="2.7"/>
<line x1="709.8" y1="593.1" x2="709.8" y2="581.9" stroke="#1414E6" stroke-width="2.7"/>
<line x1="709.8" y1="604.4" x2="699.9" y2="610.3" stroke="#E6E632" stroke-width="2.7"/>
<line x1="699.9" y1="610.3" x2="689.9" y2="616.2" stroke="#1414E6" stroke-width="2.7"/>
<line x1="709.8" y1="604.4" x2="719.7" y2="610.3" stroke="#E6E632" stroke-width="2.7"/>
<line x1="719.7" y1="610.3" x2="729.6" y2="616.2" stroke="#1414E6" stroke-width="2.7"/>
<line x1="749.5" y1="604.4" x2="749.5" y2="593.1" stroke="#E6E632" stroke-width="2.7"/>
<line x1="749.5" y1="593.1" x2="749.5" y2="581.9" stroke="#1414E6" stroke-width="2.7"/>
<line x1="749.5" y1="604.4" x2="739.5" y2="610.3" stroke="#E6E632" stroke-width="2.7"/>
<line x1="739.5" y1="610.3" x2="729.6" y2="616.2" stroke="#1414E6" stroke-width="2.7"/>
<line x1="749.5" y1="604.4" x2="759.4" y2="610.3" stroke="#E6E632" stroke-width="2.7"/>
<line x1="759.4" y1="610.3" x2="769.3" y2="616.2" stroke="#1414E6" stroke-width="2.7"/>
<circle cx="332.9" cy="432.9" r="5.0" fill="url(#gr)"/>
<circle cx="372.6" cy="432.9" r="5.0" fill="url(#gr)"/>
<circle cx="412.2" cy="432.9" r="5.0" fill="url(#gr)"/>
<circle cx="451.9" cy="432.9" r="5.0" fill="url(#gr)"/>
<circle cx="491.6" cy="432.9" r="5.0" fill="url(#gr)"/>
<circle cx="531.2" cy="432.9" r="5.0" fill="url(#gr)"/>
<circle cx="570.9" cy="432.9" r="5.0" fill="url(#gy)"/>
<circle cx="610.6" cy="432.9" r="5.0" fill="url(#gy)"/>
<circle cx="650.3" cy="432.9" r="5.0" fill="url(#gy)"/>
<circle cx="689.9" cy="432.9" r="5.0" fill="url(#gy)"/>
<circle cx="729.6" cy="432.9" r="5.0" fill="url(#gy)"/>
<circle cx="769.3" cy="432.9" r="5.0" fill="url(#gy)"/>
<circle cx="352.8" cy="467.2" r="5.0" fill="url(#gr)"/>
<circle cx="392.4" cy="467.2" r="5.0" fill="url(#gr)"/>
<circle cx="432.1" cy="467.2" r="5.0" fill="url(#gr)"/>
<circle cx="471.8" cy="467.2" r="5.0" fill="url(#gr)"/>
<circle cx="511.4" cy="467.2" r="5.0" fill="url(#gr)"/>
<circle cx="551.1" cy="467.2" r="5.0" fill="url(#gy)"/>
<circle cx="590.8" cy="467.2" r="5.0" fill="url(#gy)"/>
<circle cx="630.4" cy="467.2" r="5.0" fill="url(#gy)"/>
<circle cx="670.1" cy="467.2" r="5.0" fill="url(#gy)"/>
<circle cx="709.8" cy="467.2" r="5.0" fill="url(#gy)"/>
<circle cx="749.5" cy="467.2" r="5.0" fill="url(#gy)"/>
<circle cx="332.9" cy="501.5" r="5.0" fill="url(#gr)"/>
<circle cx="372.6" cy="501.5" r="5.0" fill="url(#gr)"/>
<circle cx="412.2" cy="501.5" r="5.0" fill="url(#gr)"/>
<circle cx="451.9" cy="501.5" r="5.0" fill="url(#gr)"/>
<circle cx="491.6" cy="501.5" r="5.0" fill="url(#gr)"/>
<circle cx="570.9" cy="501.5" r="5.0" fill="url(#gy)"/>
<circle cx="610.6" cy="501.5" r="5.0" fill="url(#gy)"/>
<circle cx="650.3" cy="501.5" r="5.0" fill="url(#gy)"/>
<circle cx="689.9" cy="501.5" r="5.0" fill="url(#gy)"/>
<circle cx="729.6" cy="501.5" r="5.0" fill="url(#gy)"/>
<circle cx="769.3" cy="501.5" r="5.0" fill="url(#gy)"/>
<circle cx="352.8" cy="535.8" r="5.0" fill="url(#gr)"/>
<circle cx="392.4" cy="535.8" r="5.0" fill="url(#gr)"/>
<circle cx="432.1" cy="535.8" r="5.0" fill="url(#gr)"/>
<circle cx="471.8" cy="535.8" r="5.0" fill="url(#gr)"/>
<circle cx="590.8" cy="535.8" r="5.0" fill="url(#gy)"/>
<circle cx="630.4" cy="535.8" r="5.0" fill="url(#gy)"/>
<circle cx="670.1" cy="535.8" r="5.0" fill="url(#gy)"/>
<circle cx="709.8" cy="535.8" r="5.0" fill="url(#gy)"/>
<circle cx="749.5" cy="535.8" r="5.0" fill="url(#gy)"/>
<circle cx="332.9" cy="570.1" r="5.0" fill="url(#gr)"/>
<circle cx="372.6" cy="570.1" r="5.0" fill="url(#gr)"/>
<circle cx="412.2" cy="570.1" r="5.0" fill="url(#gr)"/>
<circle cx="451.9" cy="570.1" r="5.0" fill="url(#gr)"/>
<circle cx="491.6" cy="570.1" r="5.0" fill="url(#gr)"/>
<circle cx="531.2" cy="570.1" r="5.0" fill="url(#gr)"/>
<circle cx="570.9" cy="570.1" r="5.0" fill="url(#gy)"/>
<circle cx="610.6" cy="570.1" r="5.0" fill="url(#gy)"/>
<circle cx="650.3" cy="570.1" r="5.0" fill="url(#gy)"/>
<circle cx="689.9" cy="570.1" r="5.0" fill="url(#gy)"/>
<circle cx="729.6" cy="570.1" r="5.0" fill="url(#gy)"/>
<circle cx="769.3" cy="570.1" r="5.0" fill="url(#gy)"/>
<circle cx="352.8" cy="604.4" r="5.0" fill="url(#gr)"/>
<circle cx="392.4" cy="604.4" r="5.0" fill="url(#gr)"/>
<circle cx="432.1" cy="604.4" r="5.0" fill="url(#gr)"/>
<circle cx="471.8" cy="604.4" r="5.0" fill="url(#gr)"/>
<circle cx="511.4" cy="604.4" r="5.0" fill="url(#gr)"/>
<circle cx="551.1" cy="604.4" r="5.0" fill="url(#gy)"/>
<circle cx="590.8" cy="604.4" r="5.0" fill="url(#gy)"/>
<circle cx="630.4" cy="604.4" r="5.0" fill="url(#gy)"/>
<circle cx="670.1" cy="604.4" r="5.0" fill="url(#gy)"/>
<circle cx="709.8" cy="604.4" r="5.0" fill="url(#gy)"/>
<circle cx="749.5" cy="604.4" r="5.0" fill="url(#gy)"/>
<circle cx="352.8" cy="444.7" r="6.5" fill="url(#gb)"/>
<circle cx="392.4" cy="444.7" r="6.5" fill="url(#gb)"/>
<circle cx="432.1" cy="444.7" r="6.5" fill="url(#gb)"/>
<circle cx="471.8" cy="444.7" r="6.5" fill="url(#gb)"/>
<circle cx="511.4" cy="444.7" r="6.5" fill="url(#gb)"/>
<circle cx="551.1" cy="444.7" r="6.5" fill="url(#gb)"/>
<circle cx="590.8" cy="444.7" r="6.5" fill="url(#gb)"/>
<circle cx="630.4" cy="444.7" r="6.5" fill="url(#gb)"/>
<circle cx="670.1" cy="444.7" r="6.5" fill="url(#gb)"/>
<circle cx="709.8" cy="444.7" r="6.5" fill="url(#gb)"/>
<circle cx="749.5" cy="444.7" r="6.5" fill="url(#gb)"/>
<circle cx="332.9" cy="479.0" r="6.5" fill="url(#gb)"/>
<circle cx="372.6" cy="479.0" r="6.5" fill="url(#gb)"/>
<circle cx="412.2" cy="479.0" r="6.5" fill="url(#gb)"/>
<circle cx="451.9" cy="479.0" r="6.5" fill="url(#gb)"/>
<circle cx="491.6" cy="479.0" r="6.5" fill="url(#gb)"/>
<circle cx="531.2" cy="479.0" r="6.5" fill="url(#gb)"/>
<circle cx="570.9" cy="479.0" r="6.5" fill="url(#gb)"/>
<circle cx="610.6" cy="479.0" r="6.5" fill="url(#gb)"/>
<circle cx="650.3" cy="479.0" r="6.5" fill="url(#gb)"/>
<circle cx="689.9" cy="479.0" r="6.5" fill="url(#gb)"/>
<circle cx="729.6" cy="479.0" r="6.5" fill="url(#gb)"/>
<circle cx="769.3" cy="479.0" r="6.5" fill="url(#gb)"/>
<circle cx="352.8" cy="513.3" r="6.5" fill="url(#gb)"/>
<circle cx="392.4" cy="513.3" r="6.5" fill="url(#gb)"/>
<circle cx="432.1" cy="513.3" r="6.5" fill="url(#gb)"/>
<circle cx="471.8" cy="513.3" r="6.5" fill="url(#gb)"/>
<circle cx="590.8" cy="513.3" r="6.5" fill="url(#gb)"/>
<circle cx="630.4" cy="513.3" r="6.5" fill="url(#gb)"/>
<circle cx="670.1" cy="513.3" r="6.5" fill="url(#gb)"/>
<circle cx="709.8" cy="513.3" r="6.5" fill="url(#gb)"/>
<circle cx="749.5" cy="513.3" r="6.5" fill="url(#gb)"/>
<circle cx="332.9" cy="547.6" r="6.5" fill="url(#gb)"/>
<circle cx="372.6" cy="547.6" r="6.5" fill="url(#gb)"/>
<circle cx="412.2" cy="547.6" r="6.5" fill="url(#gb)"/>
<circle cx="451.9" cy="547.6" r="6.5" fill="url(#gb)"/>
<circle cx="491.6" cy="547.6" r="6.5" fill="url(#gb)"/>
<circle cx="570.9" cy="547.6" r="6.5" fill="url(#gb)"/>
<circle cx="610.6" cy="547.6" r="6.5" fill="url(#gb)"/>
<circle cx="650.3" cy="547.6" r="6.5" fill="url(#gb)"/>
<circle cx="689.9" cy="547.6" r="6.5" fill="url(#gb)"/>
<circle cx="729.6" cy="547.6" r="6.5" fill="url(#gb)"/>
<circle cx="769.3" cy="547.6" r="6.5" fill="url(#gb)"/>
<circle cx="352.8" cy="581.9" r="6.5" fill="url(#gb)"/>
<circle cx="392.4" cy="581.9" r="6.5" fill="url(#gb)"/>
<circle cx="432.1" cy="581.9" r="6.5" fill="url(#gb)"/>
<circle cx="471.8" cy="581.9" r="6.5" fill="url(#gb)"/>
<circle cx="511.4" cy="581.9" r="6.5" fill="url(#gb)"/>
<circle cx="551.1" cy="581.9" r="6.5" fill="url(#gb)"/>
<circle cx="590.8" cy="581.9" r="6.5" fill="url(#gb)"/>
<circle cx="630.4" cy="581.9" r="6.5" fill="url(#gb)"/>
<circle cx="670.1" cy="581.9" r="6.5" fill="url(#gb)"/>
<circle cx="709.8" cy="581.9" r="6.5" fill="url(#gb)"/>
<circle cx="749.5" cy="581.9" r="6.5" fill="url(#gb)"/>
<circle cx="332.9" cy="616.2" r="6.5" fill="url(#gb)"/>
<circle cx="372.6" cy="616.2" r="6.5" fill="url(#gb)"/>
<circle cx="412.2" cy="616.2" r="6.5" fill="url(#gb)"/>
<circle cx="451.9" cy="616.2" r="6.5" fill="url(#gb)"/>
<circle cx="491.6" cy="616.2" r="6.5" fill="url(#gb)"/>
<circle cx="531.2" cy="616.2" r="6.5" fill="url(#gb)"/>
<circle cx="570.9" cy="616.2" r="6.5" fill="url(#gb)"/>
<circle cx="610.6" cy="616.2" r="6.5" fill="url(#gb)"/>
<circle cx="650.3" cy="616.2" r="6.5" fill="url(#gb)"/>
<circle cx="689.9" cy="616.2" r="6.5" fill="url(#gb)"/>
<circle cx="729.6" cy="616.2" r="6.5" fill="url(#gb)"/>
<circle cx="769.3" cy="616.2" r="6.5" fill="url(#gb)"/>
<circle cx="531.2" cy="502" r="7.9" fill="url(#gg)"/>
<circle cx="510.8" cy="513.2" r="7.9" fill="url(#gg)"/>
<circle cx="552.2" cy="513.2" r="7.9" fill="url(#gg)"/>
<circle cx="530.5" cy="526" r="7.9" fill="url(#gg)"/>
<circle cx="511" cy="537" r="7.9" fill="url(#gg)"/>
<circle cx="552.2" cy="537" r="7.9" fill="url(#gg)"/>
<circle cx="530.5" cy="546.5" r="7.9" fill="url(#gg)"/>
<rect x="457.6" y="448.9" width="31.1" height="26.3" fill="#C8C8C8"/>
<text x="459.2" y="471.1" font-size="25.5" font-weight="bold" fill="#5FAF4B">D7</text>
<rect x="515.1" y="468.6" width="30.4" height="26.3" fill="#C8C8C8"/>
<text x="516.7" y="490.8" font-size="25.5" font-weight="bold" fill="#5FAF4B">D5</text>
<rect x="470.1" y="496" width="30.6" height="26.7" fill="#C8C8C8"/>
<text x="471.7" y="518.2" font-size="25.5" font-weight="bold" fill="#5FAF4B">D6</text>
<rect x="563.8" y="496" width="30.7" height="26.7" fill="#C8C8C8"/>
<text x="565.4" y="518.2" font-size="25.5" font-weight="bold" fill="#5FAF4B">D4</text>
<rect x="471.7" y="537.8" width="30.9" height="26.8" fill="#C8C8C8"/>
<text x="473.3" y="560.0" font-size="25.5" font-weight="bold" fill="#5FAF4B">D1</text>
<rect x="563.8" y="537.8" width="30.7" height="26.8" fill="#C8C8C8"/>
<text x="565.4" y="560.0" font-size="25.5" font-weight="bold" fill="#5FAF4B">D3</text>
<rect x="515.1" y="562.3" width="30.9" height="26.3" fill="#C8C8C8"/>
<text x="516.7" y="584.5" font-size="25.5" font-weight="bold" fill="#5FAF4B">D2</text>
<circle cx="491.6" cy="478.6" r="6.5" fill="url(#gb)"/>
<circle cx="471.8" cy="535.8" r="5.0" fill="url(#gr)"/>
<line x1="524" y1="519" x2="502" y2="490" stroke="#5AAF50" stroke-width="3.4"/>
<polygon points="496.5,482.5 507.5,489 499.5,494.8" fill="#5AAF50"/>
<path d="M1008.9,299.8 L1008.9,298.1 L1012.7,296.2 L1015.6,294.3 L1018.5,289.5 L1021.4,282.7 L1023.3,286.6 L1026.2,283.7 L1028.5,262.5 L1031.0,268.3 L1032.9,243.2 L1034.3,252.9 L1037.8,205.6 L1040.6,222.0 L1043.5,256.7 L1045.5,272.1 L1046.4,280.8 L1048.4,283.7 L1051.2,286.6 L1053.2,275.0 L1055.5,288.5 L1058.6,273.1 L1061.8,266.3 L1064.7,235.5 L1067.6,210.5 L1069.5,220.1 L1070.9,229.7 L1074.0,284.6 L1077.8,258.6 L1082.1,285.6 L1085.9,233.6 L1088.8,206.6 L1092.8,172.5 L1095.7,187.9 L1098.6,219.3 L1100.0,239.3 L1101.4,230.7 L1103.7,253.6 L1105.7,242.1 L1108.6,233.6 L1112.3,185.0 L1114.3,213.6 L1115.7,290.7 L1118.6,270.7 L1121.4,276.4 L1124.3,247.9 L1128.6,197.9 L1130.6,225.0 L1133.4,195.9 L1135.7,256.4 L1138.0,235.0 L1141.4,245.0 L1144.3,253.6 L1145.7,240.7 L1148.6,245.0 L1150.6,287.9 L1153.4,262.1 L1156.3,259.3 L1158.6,187.9 L1160.9,117.9 L1163.7,147.9 L1165.7,213.6 L1167.7,189.3 L1170.0,196.4 L1172.3,227.9 L1174.3,216.4 L1175.7,247.9 L1178.0,233.6 L1179.1,247.9 L1180.9,299.8 L1180.9,299.8 Z" fill="none" stroke="#c59ad6" stroke-width="2.3" stroke-linejoin="round"/>
<path d="M1008.9,299.8 L1008.9,298.1 L1012.7,296.2 L1015.6,294.3 L1018.5,289.5 L1021.4,282.7 L1023.3,286.6 L1026.2,283.7 L1028.5,262.5 L1031.0,268.3 L1032.9,243.2 L1034.3,252.9 L1037.8,205.6 L1040.6,222.0 L1043.5,256.7 L1045.5,272.1 L1046.4,280.8 L1048.4,283.7 L1051.2,286.6 L1053.2,275.0 L1055.5,288.5 L1058.6,273.1 L1061.8,266.3 L1064.7,235.5 L1067.6,210.5 L1069.5,220.1 L1070.9,229.7 L1074.0,284.6 L1077.8,258.6 L1082.1,285.6 L1085.9,233.6 L1088.8,206.6 L1092.8,172.5 L1095.7,187.9 L1098.6,219.3 L1100.0,239.3 L1101.4,230.7 L1103.7,253.6 L1105.7,242.1 L1108.6,233.6 L1112.3,185.0 L1114.3,213.6 L1115.7,290.7 L1118.6,270.7 L1121.4,276.4 L1124.3,247.9 L1128.6,197.9 L1130.6,225.0 L1133.4,195.9 L1135.7,256.4 L1138.0,235.0 L1141.4,245.0 L1144.3,253.6 L1145.7,240.7 L1148.6,245.0 L1150.6,287.9 L1153.4,262.1 L1156.3,259.3 L1158.6,187.9 L1160.9,117.9 L1163.7,147.9 L1165.7,213.6 L1167.7,189.3 L1170.0,196.4 L1172.3,227.9 L1174.3,216.4 L1175.7,247.9 L1178.0,233.6 L1179.1,247.9 L1180.9,299.8 L1180.9,299.8 Z" fill="#8CF53C" stroke="#1c0c1c" stroke-width="1.0" stroke-linejoin="round"/>
<path d="M1224.3,299.8 L1230.5,160.0 L1231.0,100.0 L1231.6,73.0 L1233.0,100.0 L1235.0,61.0 L1236.5,70.0 L1237.5,88.0 L1238.6,68.0 L1240.0,28.0 L1241.2,80.0 L1243.0,136.0 L1244.8,152.0 L1246.2,100.0 L1247.4,55.0 L1248.6,100.0 L1249.8,160.0 L1250.5,242.0 L1251.2,160.0 L1253.4,71.0 L1255.0,104.0 L1257.2,160.0 L1261.0,200.0 L1262.0,214.0 L1262.8,195.0 L1263.5,215.0 L1266.0,299.8" fill="none" stroke="#404040" stroke-width="1.3" stroke-linejoin="round"/>
<line x1="1099.2" y1="22.5" x2="1099.2" y2="299.8" stroke="#7a0a14" stroke-width="1.9" stroke-dasharray="4.2 3.66"/>
<rect x="1008.6" y="23.0" width="343.9" height="276.8" fill="none" stroke="#000" stroke-width="1.85"/>
<text x="1008.6" y="323" font-size="22" text-anchor="middle">−6</text>
<line x1="1037.3" y1="299.8" x2="1037.3" y2="294.8" stroke="#000" stroke-width="1.7"/>
<text x="1037.3" y="323" font-size="22" text-anchor="middle">−5</text>
<line x1="1065.9" y1="299.8" x2="1065.9" y2="294.8" stroke="#000" stroke-width="1.7"/>
<text x="1065.9" y="323" font-size="22" text-anchor="middle">−4</text>
<line x1="1094.6" y1="299.8" x2="1094.6" y2="294.8" stroke="#000" stroke-width="1.7"/>
<text x="1094.6" y="323" font-size="22" text-anchor="middle">−3</text>
<line x1="1123.2" y1="299.8" x2="1123.2" y2="294.8" stroke="#000" stroke-width="1.7"/>
<text x="1123.2" y="323" font-size="22" text-anchor="middle">−2</text>
<line x1="1151.9" y1="299.8" x2="1151.9" y2="294.8" stroke="#000" stroke-width="1.7"/>
<text x="1151.9" y="323" font-size="22" text-anchor="middle">−1</text>
<line x1="1180.5" y1="299.8" x2="1180.5" y2="294.8" stroke="#000" stroke-width="1.7"/>
<text x="1180.5" y="323" font-size="22" text-anchor="middle">0</text>
<line x1="1209.2" y1="299.8" x2="1209.2" y2="294.8" stroke="#000" stroke-width="1.7"/>
<text x="1209.2" y="323" font-size="22" text-anchor="middle">1</text>
<line x1="1237.9" y1="299.8" x2="1237.9" y2="294.8" stroke="#000" stroke-width="1.7"/>
<text x="1237.9" y="323" font-size="22" text-anchor="middle">2</text>
<line x1="1266.5" y1="299.8" x2="1266.5" y2="294.8" stroke="#000" stroke-width="1.7"/>
<text x="1266.5" y="323" font-size="22" text-anchor="middle">3</text>
<line x1="1295.2" y1="299.8" x2="1295.2" y2="294.8" stroke="#000" stroke-width="1.7"/>
<text x="1295.2" y="323" font-size="22" text-anchor="middle">4</text>
<line x1="1323.8" y1="299.8" x2="1323.8" y2="294.8" stroke="#000" stroke-width="1.7"/>
<text x="1323.8" y="323" font-size="22" text-anchor="middle">5</text>
<text x="1352.5" y="323" font-size="22" text-anchor="middle">6</text>
<text x="1001.6" y="305.7" font-size="18" text-anchor="end">0</text>
<line x1="1008.6" y1="274.6" x2="1013.6" y2="274.6" stroke="#000" stroke-width="1.7"/>
<text x="1001.6" y="280.5" font-size="18" text-anchor="end">2</text>
<line x1="1008.6" y1="249.4" x2="1013.6" y2="249.4" stroke="#000" stroke-width="1.7"/>
<text x="1001.6" y="255.3" font-size="18" text-anchor="end">4</text>
<line x1="1008.6" y1="224.2" x2="1013.6" y2="224.2" stroke="#000" stroke-width="1.7"/>
<text x="1001.6" y="230.1" font-size="18" text-anchor="end">6</text>
<line x1="1008.6" y1="199.0" x2="1013.6" y2="199.0" stroke="#000" stroke-width="1.7"/>
<text x="1001.6" y="204.9" font-size="18" text-anchor="end">8</text>
<line x1="1008.6" y1="173.8" x2="1013.6" y2="173.8" stroke="#000" stroke-width="1.7"/>
<text x="1001.6" y="179.7" font-size="18" text-anchor="end">10</text>
<line x1="1008.6" y1="148.6" x2="1013.6" y2="148.6" stroke="#000" stroke-width="1.7"/>
<text x="1001.6" y="154.5" font-size="18" text-anchor="end">12</text>
<line x1="1008.6" y1="123.4" x2="1013.6" y2="123.4" stroke="#000" stroke-width="1.7"/>
<text x="1001.6" y="129.3" font-size="18" text-anchor="end">14</text>
<line x1="1008.6" y1="98.2" x2="1013.6" y2="98.2" stroke="#000" stroke-width="1.7"/>
<text x="1001.6" y="104.1" font-size="18" text-anchor="end">16</text>
<line x1="1008.6" y1="73.0" x2="1013.6" y2="73.0" stroke="#000" stroke-width="1.7"/>
<text x="1001.6" y="78.9" font-size="18" text-anchor="end">18</text>
<line x1="1008.6" y1="47.8" x2="1013.6" y2="47.8" stroke="#000" stroke-width="1.7"/>
<text x="1001.6" y="53.7" font-size="18" text-anchor="end">20</text>
<text x="1001.6" y="28.5" font-size="18" text-anchor="end">22</text>
<text x="1180.3" y="345" font-size="22.8" text-anchor="middle" textLength="125" lengthAdjust="spacingAndGlyphs">Energe (eV)</text>
<text transform="translate(974,160.7) rotate(-90)" font-size="22.8" text-anchor="middle" textLength="175.5" lengthAdjust="spacingAndGlyphs">PDOS(states/eV)</text>
<text x="1060" y="79.3" font-size="32" font-style="italic">ε</text>
<text x="1074" y="86.8" font-size="21" font-style="italic">p</text>
<text x="1126.7" y="70.7" font-size="23.5" font-weight="bold" fill="#D70000" textLength="87.5" lengthAdjust="spacingAndGlyphs"><tspan font-style="italic">ε</tspan> = −2.94</text>
<text x="1292.5" y="65.8" font-size="36.5">(b)</text>
<path d="M1414.1,297.7 L1414.1,295.8 L1417.1,294.8 L1420.2,287.7 L1423.2,280.6 L1425.2,283.6 L1427.2,279.6 L1429.3,281.6 L1431.3,266.4 L1433.3,263.3 L1435.4,241.1 L1437.4,240.0 L1439.8,210.7 L1441.4,220.8 L1444.5,263.3 L1447.5,275.5 L1448.5,277.5 L1449.9,271.4 L1451.6,284.6 L1454.2,283.6 L1456.6,273.9 L1458.3,284.6 L1461.1,272.5 L1463.7,259.3 L1465.8,265.4 L1468.4,226.9 L1470.4,203.6 L1471.8,241.1 L1473.2,223.8 L1474.9,241.1 L1476.9,280.6 L1479.3,261.3 L1481.4,273.5 L1484.0,279.6 L1487.0,235.0 L1488.6,244.1 L1491.1,202.6 L1493.5,198.5 L1496.1,179.3 L1498.2,196.5 L1499.1,225.3 L1501.0,228.0 L1503.2,252.8 L1505.2,232.2 L1507.4,247.3 L1508.7,244.5 L1510.9,272.0 L1513.7,230.8 L1515.6,269.3 L1518.3,274.7 L1521.1,236.3 L1523.8,225.3 L1527.4,189.6 L1530.7,225.3 L1533.4,254.2 L1536.2,244.5 L1538.9,230.8 L1541.1,250.0 L1543.9,261.0 L1547.2,267.9 L1549.4,259.6 L1551.3,244.5 L1554.0,262.4 L1556.8,206.1 L1560.3,127.8 L1563.1,164.9 L1565.8,189.6 L1567.8,185.5 L1569.7,200.6 L1571.9,204.7 L1574.6,218.5 L1576.8,228.1 L1578.7,252.8 L1582.9,297.7 L1582.9,297.7 Z" fill="none" stroke="#c59ad6" stroke-width="2.3" stroke-linejoin="round"/>
<path d="M1414.1,297.7 L1414.1,295.8 L1417.1,294.8 L1420.2,287.7 L1423.2,280.6 L1425.2,283.6 L1427.2,279.6 L1429.3,281.6 L1431.3,266.4 L1433.3,263.3 L1435.4,241.1 L1437.4,240.0 L1439.8,210.7 L1441.4,220.8 L1444.5,263.3 L1447.5,275.5 L1448.5,277.5 L1449.9,271.4 L1451.6,284.6 L1454.2,283.6 L1456.6,273.9 L1458.3,284.6 L1461.1,272.5 L1463.7,259.3 L1465.8,265.4 L1468.4,226.9 L1470.4,203.6 L1471.8,241.1 L1473.2,223.8 L1474.9,241.1 L1476.9,280.6 L1479.3,261.3 L1481.4,273.5 L1484.0,279.6 L1487.0,235.0 L1488.6,244.1 L1491.1,202.6 L1493.5,198.5 L1496.1,179.3 L1498.2,196.5 L1499.1,225.3 L1501.0,228.0 L1503.2,252.8 L1505.2,232.2 L1507.4,247.3 L1508.7,244.5 L1510.9,272.0 L1513.7,230.8 L1515.6,269.3 L1518.3,274.7 L1521.1,236.3 L1523.8,225.3 L1527.4,189.6 L1530.7,225.3 L1533.4,254.2 L1536.2,244.5 L1538.9,230.8 L1541.1,250.0 L1543.9,261.0 L1547.2,267.9 L1549.4,259.6 L1551.3,244.5 L1554.0,262.4 L1556.8,206.1 L1560.3,127.8 L1563.1,164.9 L1565.8,189.6 L1567.8,185.5 L1569.7,200.6 L1571.9,204.7 L1574.6,218.5 L1576.8,228.1 L1578.7,252.8 L1582.9,297.7 L1582.9,297.7 Z" fill="#8CF53C" stroke="#1c0c1c" stroke-width="1.0" stroke-linejoin="round"/>
<path d="M1625.0,297.7 L1630.2,241.0 L1632.2,160.0 L1632.6,112.0 L1633.4,54.0 L1635.0,53.0 L1636.6,28.0 L1638.0,46.0 L1639.4,52.0 L1640.6,36.0 L1642.0,52.0 L1644.0,120.0 L1645.5,162.0 L1647.0,100.0 L1648.0,66.0 L1649.4,100.0 L1650.6,116.0 L1652.0,146.0 L1652.6,116.0 L1654.0,150.0 L1656.6,124.0 L1658.0,160.0 L1661.6,225.0 L1663.6,227.0 L1667.3,297.7" fill="none" stroke="#404040" stroke-width="1.3" stroke-linejoin="round"/>
<line x1="1501.4" y1="22.7" x2="1501.4" y2="297.7" stroke="#7a0a14" stroke-width="1.9" stroke-dasharray="4.2 3.66"/>
<rect x="1412.3" y="23.2" width="340.7" height="274.5" fill="none" stroke="#000" stroke-width="1.85"/>
<text x="1412.3" y="321.3" font-size="22" text-anchor="middle">−6</text>
<line x1="1440.7" y1="297.7" x2="1440.7" y2="292.7" stroke="#000" stroke-width="1.7"/>
<text x="1440.7" y="321.3" font-size="22" text-anchor="middle">−5</text>
<line x1="1469.1" y1="297.7" x2="1469.1" y2="292.7" stroke="#000" stroke-width="1.7"/>
<text x="1469.1" y="321.3" font-size="22" text-anchor="middle">−4</text>
<line x1="1497.5" y1="297.7" x2="1497.5" y2="292.7" stroke="#000" stroke-width="1.7"/>
<text x="1497.5" y="321.3" font-size="22" text-anchor="middle">−3</text>
<line x1="1525.9" y1="297.7" x2="1525.9" y2="292.7" stroke="#000" stroke-width="1.7"/>
<text x="1525.9" y="321.3" font-size="22" text-anchor="middle">−2</text>
<line x1="1554.3" y1="297.7" x2="1554.3" y2="292.7" stroke="#000" stroke-width="1.7"/>
<text x="1554.3" y="321.3" font-size="22" text-anchor="middle">−1</text>
<line x1="1582.7" y1="297.7" x2="1582.7" y2="292.7" stroke="#000" stroke-width="1.7"/>
<text x="1582.7" y="321.3" font-size="22" text-anchor="middle">0</text>
<line x1="1611.0" y1="297.7" x2="1611.0" y2="292.7" stroke="#000" stroke-width="1.7"/>
<text x="1611.0" y="321.3" font-size="22" text-anchor="middle">1</text>
<line x1="1639.4" y1="297.7" x2="1639.4" y2="292.7" stroke="#000" stroke-width="1.7"/>
<text x="1639.4" y="321.3" font-size="22" text-anchor="middle">2</text>
<line x1="1667.8" y1="297.7" x2="1667.8" y2="292.7" stroke="#000" stroke-width="1.7"/>
<text x="1667.8" y="321.3" font-size="22" text-anchor="middle">3</text>
<line x1="1696.2" y1="297.7" x2="1696.2" y2="292.7" stroke="#000" stroke-width="1.7"/>
<text x="1696.2" y="321.3" font-size="22" text-anchor="middle">4</text>
<line x1="1724.6" y1="297.7" x2="1724.6" y2="292.7" stroke="#000" stroke-width="1.7"/>
<text x="1724.6" y="321.3" font-size="22" text-anchor="middle">5</text>
<text x="1753.0" y="321.3" font-size="22" text-anchor="middle">6</text>
<text x="1405.3" y="303.6" font-size="18" text-anchor="end">0</text>
<line x1="1412.3" y1="272.7" x2="1417.3" y2="272.7" stroke="#000" stroke-width="1.7"/>
<text x="1405.3" y="278.6" font-size="18" text-anchor="end">2</text>
<line x1="1412.3" y1="247.8" x2="1417.3" y2="247.8" stroke="#000" stroke-width="1.7"/>
<text x="1405.3" y="253.7" font-size="18" text-anchor="end">4</text>
<line x1="1412.3" y1="222.8" x2="1417.3" y2="222.8" stroke="#000" stroke-width="1.7"/>
<text x="1405.3" y="228.7" font-size="18" text-anchor="end">6</text>
<line x1="1412.3" y1="197.9" x2="1417.3" y2="197.9" stroke="#000" stroke-width="1.7"/>
<text x="1405.3" y="203.8" font-size="18" text-anchor="end">8</text>
<line x1="1412.3" y1="172.9" x2="1417.3" y2="172.9" stroke="#000" stroke-width="1.7"/>
<text x="1405.3" y="178.8" font-size="18" text-anchor="end">10</text>
<line x1="1412.3" y1="147.9" x2="1417.3" y2="147.9" stroke="#000" stroke-width="1.7"/>
<text x="1405.3" y="153.8" font-size="18" text-anchor="end">12</text>
<line x1="1412.3" y1="123.0" x2="1417.3" y2="123.0" stroke="#000" stroke-width="1.7"/>
<text x="1405.3" y="128.9" font-size="18" text-anchor="end">14</text>
<line x1="1412.3" y1="98.0" x2="1417.3" y2="98.0" stroke="#000" stroke-width="1.7"/>
<text x="1405.3" y="103.9" font-size="18" text-anchor="end">16</text>
<line x1="1412.3" y1="73.1" x2="1417.3" y2="73.1" stroke="#000" stroke-width="1.7"/>
<text x="1405.3" y="79.0" font-size="18" text-anchor="end">18</text>
<line x1="1412.3" y1="48.1" x2="1417.3" y2="48.1" stroke="#000" stroke-width="1.7"/>
<text x="1405.3" y="54.0" font-size="18" text-anchor="end">20</text>
<text x="1405.3" y="29.0" font-size="18" text-anchor="end">22</text>
<text x="1583.2" y="343.2" font-size="22.8" text-anchor="middle" textLength="124" lengthAdjust="spacingAndGlyphs">Energe (eV)</text>
<text transform="translate(1377.8,159.9) rotate(-90)" font-size="22.8" text-anchor="middle" textLength="175.5" lengthAdjust="spacingAndGlyphs">PDOS(states/eV)</text>
<text x="1469" y="91.9" font-size="32" font-style="italic">ε</text>
<text x="1483" y="99.4" font-size="21" font-style="italic">p</text>
<text x="1522.2" y="69.5" font-size="23.5" font-weight="bold" fill="#D70000" textLength="87.5" lengthAdjust="spacingAndGlyphs"><tspan font-style="italic">ε</tspan> = −2.58</text>
<text x="1694.3" y="59.5" font-size="36.5">(c)</text>
<path d="M1018.2,641.5 L1018.2,640.0 L1022.0,637.5 L1025.7,631.2 L1028.2,628.7 L1030.7,627.5 L1033.2,620.0 L1035.0,611.2 L1037.0,613.7 L1039.5,590.0 L1042.0,597.5 L1044.5,575.0 L1045.7,572.5 L1047.7,541.2 L1049.0,555.0 L1050.7,622.5 L1053.2,625.0 L1055.0,623.7 L1056.5,615.0 L1057.5,620.0 L1059.0,632.5 L1062.0,626.2 L1065.0,628.7 L1067.0,626.2 L1070.7,600.0 L1074.0,570.0 L1076.0,541.2 L1077.5,565.0 L1079.0,585.0 L1082.0,622.5 L1084.5,625.0 L1086.5,615.0 L1088.2,623.7 L1090.7,597.5 L1093.2,592.5 L1097.0,545.0 L1099.4,513.0 L1101.0,545.0 L1102.5,597.5 L1104.2,557.5 L1105.5,595.0 L1107.5,610.0 L1109.2,595.0 L1111.0,600.0 L1113.0,578.7 L1115.0,587.5 L1116.7,585.0 L1118.7,547.5 L1120.0,575.0 L1121.2,635.0 L1123.0,621.2 L1125.5,622.5 L1128.0,615.0 L1130.0,610.0 L1131.7,567.5 L1134.2,572.5 L1136.7,558.7 L1138.5,553.7 L1140.5,570.0 L1142.5,586.2 L1145.0,590.0 L1146.7,597.5 L1149.2,611.2 L1151.0,586.2 L1153.5,606.2 L1157.2,623.7 L1160.5,592.5 L1163.5,547.5 L1166.7,505.0 L1169.2,486.2 L1170.5,500.0 L1171.7,577.5 L1173.5,563.7 L1176.0,517.5 L1178.0,570.0 L1180.0,593.7 L1182.5,572.5 L1184.2,595.0 L1186.2,641.4 L1186.2,641.5 Z" fill="none" stroke="#c59ad6" stroke-width="2.3" stroke-linejoin="round"/>
<path d="M1018.2,641.5 L1018.2,640.0 L1022.0,637.5 L1025.7,631.2 L1028.2,628.7 L1030.7,627.5 L1033.2,620.0 L1035.0,611.2 L1037.0,613.7 L1039.5,590.0 L1042.0,597.5 L1044.5,575.0 L1045.7,572.5 L1047.7,541.2 L1049.0,555.0 L1050.7,622.5 L1053.2,625.0 L1055.0,623.7 L1056.5,615.0 L1057.5,620.0 L1059.0,632.5 L1062.0,626.2 L1065.0,628.7 L1067.0,626.2 L1070.7,600.0 L1074.0,570.0 L1076.0,541.2 L1077.5,565.0 L1079.0,585.0 L1082.0,622.5 L1084.5,625.0 L1086.5,615.0 L1088.2,623.7 L1090.7,597.5 L1093.2,592.5 L1097.0,545.0 L1099.4,513.0 L1101.0,545.0 L1102.5,597.5 L1104.2,557.5 L1105.5,595.0 L1107.5,610.0 L1109.2,595.0 L1111.0,600.0 L1113.0,578.7 L1115.0,587.5 L1116.7,585.0 L1118.7,547.5 L1120.0,575.0 L1121.2,635.0 L1123.0,621.2 L1125.5,622.5 L1128.0,615.0 L1130.0,610.0 L1131.7,567.5 L1134.2,572.5 L1136.7,558.7 L1138.5,553.7 L1140.5,570.0 L1142.5,586.2 L1145.0,590.0 L1146.7,597.5 L1149.2,611.2 L1151.0,586.2 L1153.5,606.2 L1157.2,623.7 L1160.5,592.5 L1163.5,547.5 L1166.7,505.0 L1169.2,486.2 L1170.5,500.0 L1171.7,577.5 L1173.5,563.7 L1176.0,517.5 L1178.0,570.0 L1180.0,593.7 L1182.5,572.5 L1184.2,595.0 L1186.2,641.4 L1186.2,641.5 Z" fill="#8CF53C" stroke="#1c0c1c" stroke-width="1.0" stroke-linejoin="round"/>
<path d="M1229.5,641.4 L1232.0,597.0 L1235.0,555.0 L1237.0,505.0 L1237.6,469.0 L1238.0,377.0 L1239.0,419.0 L1239.6,457.0 L1241.6,425.0 L1243.0,407.0 L1244.0,425.0 L1245.6,485.0 L1248.0,519.0 L1250.0,445.0 L1251.6,419.0 L1252.4,445.0 L1254.0,501.0 L1254.4,551.0 L1256.0,505.0 L1258.4,469.0 L1259.6,495.0 L1261.0,519.0 L1265.0,560.0 L1268.0,589.0 L1269.0,609.0 L1273.5,641.4" fill="none" stroke="#404040" stroke-width="1.3" stroke-linejoin="round"/>
<line x1="1105.4" y1="365.1" x2="1105.4" y2="641.5" stroke="#7a0a14" stroke-width="1.9" stroke-dasharray="4.2 3.66"/>
<rect x="1015.3" y="365.6" width="341.2" height="275.9" fill="none" stroke="#000" stroke-width="1.85"/>
<text x="1015.3" y="664" font-size="22" text-anchor="middle">−6</text>
<line x1="1043.7" y1="641.5" x2="1043.7" y2="636.5" stroke="#000" stroke-width="1.7"/>
<text x="1043.7" y="664" font-size="22" text-anchor="middle">−5</text>
<line x1="1072.2" y1="641.5" x2="1072.2" y2="636.5" stroke="#000" stroke-width="1.7"/>
<text x="1072.2" y="664" font-size="22" text-anchor="middle">−4</text>
<line x1="1100.6" y1="641.5" x2="1100.6" y2="636.5" stroke="#000" stroke-width="1.7"/>
<text x="1100.6" y="664" font-size="22" text-anchor="middle">−3</text>
<line x1="1129.0" y1="641.5" x2="1129.0" y2="636.5" stroke="#000" stroke-width="1.7"/>
<text x="1129.0" y="664" font-size="22" text-anchor="middle">−2</text>
<line x1="1157.5" y1="641.5" x2="1157.5" y2="636.5" stroke="#000" stroke-width="1.7"/>
<text x="1157.5" y="664" font-size="22" text-anchor="middle">−1</text>
<line x1="1185.9" y1="641.5" x2="1185.9" y2="636.5" stroke="#000" stroke-width="1.7"/>
<text x="1185.9" y="664" font-size="22" text-anchor="middle">0</text>
<line x1="1214.3" y1="641.5" x2="1214.3" y2="636.5" stroke="#000" stroke-width="1.7"/>
<text x="1214.3" y="664" font-size="22" text-anchor="middle">1</text>
<line x1="1242.8" y1="641.5" x2="1242.8" y2="636.5" stroke="#000" stroke-width="1.7"/>
<text x="1242.8" y="664" font-size="22" text-anchor="middle">2</text>
<line x1="1271.2" y1="641.5" x2="1271.2" y2="636.5" stroke="#000" stroke-width="1.7"/>
<text x="1271.2" y="664" font-size="22" text-anchor="middle">3</text>
<line x1="1299.6" y1="641.5" x2="1299.6" y2="636.5" stroke="#000" stroke-width="1.7"/>
<text x="1299.6" y="664" font-size="22" text-anchor="middle">4</text>
<line x1="1328.1" y1="641.5" x2="1328.1" y2="636.5" stroke="#000" stroke-width="1.7"/>
<text x="1328.1" y="664" font-size="22" text-anchor="middle">5</text>
<text x="1356.5" y="664" font-size="22" text-anchor="middle" clip-path="url(#clipd6)">6</text>
<text x="1008.3" y="647.3" font-size="18" text-anchor="end">0</text>
<line x1="1015.3" y1="619.3" x2="1020.3" y2="619.3" stroke="#000" stroke-width="1.7"/>
<text x="1008.3" y="625.2" font-size="18" text-anchor="end">2</text>
<line x1="1015.3" y1="597.1" x2="1020.3" y2="597.1" stroke="#000" stroke-width="1.7"/>
<text x="1008.3" y="603.0" font-size="18" text-anchor="end">4</text>
<line x1="1015.3" y1="575.0" x2="1020.3" y2="575.0" stroke="#000" stroke-width="1.7"/>
<text x="1008.3" y="580.9" font-size="18" text-anchor="end">6</text>
<line x1="1015.3" y1="552.8" x2="1020.3" y2="552.8" stroke="#000" stroke-width="1.7"/>
<text x="1008.3" y="558.7" font-size="18" text-anchor="end">8</text>
<line x1="1015.3" y1="530.7" x2="1020.3" y2="530.7" stroke="#000" stroke-width="1.7"/>
<text x="1008.3" y="536.6" font-size="18" text-anchor="end">10</text>
<line x1="1015.3" y1="508.6" x2="1020.3" y2="508.6" stroke="#000" stroke-width="1.7"/>
<text x="1008.3" y="514.5" font-size="18" text-anchor="end">12</text>
<line x1="1015.3" y1="486.4" x2="1020.3" y2="486.4" stroke="#000" stroke-width="1.7"/>
<text x="1008.3" y="492.3" font-size="18" text-anchor="end">14</text>
<line x1="1015.3" y1="464.3" x2="1020.3" y2="464.3" stroke="#000" stroke-width="1.7"/>
<text x="1008.3" y="470.2" font-size="18" text-anchor="end">16</text>
<line x1="1015.3" y1="442.1" x2="1020.3" y2="442.1" stroke="#000" stroke-width="1.7"/>
<text x="1008.3" y="448.0" font-size="18" text-anchor="end">18</text>
<line x1="1015.3" y1="420.0" x2="1020.3" y2="420.0" stroke="#000" stroke-width="1.7"/>
<text x="1008.3" y="425.9" font-size="18" text-anchor="end">20</text>
<line x1="1015.3" y1="397.9" x2="1020.3" y2="397.9" stroke="#000" stroke-width="1.7"/>
<text x="1008.3" y="403.8" font-size="18" text-anchor="end">22</text>
<line x1="1015.3" y1="375.7" x2="1020.3" y2="375.7" stroke="#000" stroke-width="1.7"/>
<text x="1008.3" y="381.6" font-size="18" text-anchor="end">24</text>
<text x="1186.2" y="687" font-size="22.8" text-anchor="middle" textLength="124" lengthAdjust="spacingAndGlyphs">Energe (eV)</text>
<text transform="translate(981,502.9) rotate(-90)" font-size="22.8" text-anchor="middle" textLength="175.5" lengthAdjust="spacingAndGlyphs">PDOS(states/eV)</text>
<text x="1069" y="413" font-size="32" font-style="italic">ε</text>
<text x="1083" y="420.5" font-size="21" font-style="italic">p</text>
<text x="1126.7" y="414" font-size="23.5" font-weight="bold" fill="#D70000" textLength="87.5" lengthAdjust="spacingAndGlyphs"><tspan font-style="italic">ε</tspan> = −3.02</text>
<text x="1293.4" y="410.3" font-size="36.5">(d)</text>
<path d="M1418.1,645.5 L1418.1,643.9 L1421.7,641.5 L1424.1,637.8 L1427.1,631.8 L1429.5,629.3 L1431.9,626.9 L1433.9,613.6 L1436.3,614.8 L1438.2,606.3 L1440.7,591.7 L1442.4,590.5 L1444.1,574.7 L1445.3,575.9 L1447.2,557.7 L1448.4,577.1 L1450.9,625.7 L1453.8,628.1 L1455.7,623.3 L1457.7,618.4 L1459.4,633.0 L1461.8,631.8 L1463.5,628.6 L1465.4,631.8 L1469.8,620.8 L1472.2,591.7 L1474.7,565.0 L1476.4,543.6 L1478.1,577.1 L1479.5,589.3 L1481.2,601.4 L1482.9,625.7 L1484.8,620.8 L1487.8,626.9 L1490.2,609.9 L1492.1,616.0 L1494.6,582.0 L1496.5,552.9 L1498.9,533.9 L1500.6,543.1 L1502.3,540.7 L1503.7,593.5 L1505.2,598.6 L1507.0,567.8 L1508.8,608.9 L1510.9,593.5 L1512.9,612.8 L1515.5,590.9 L1518.1,576.8 L1520.6,610.2 L1521.9,601.2 L1523.7,634.7 L1526.3,583.2 L1528.4,603.8 L1530.9,585.8 L1534.0,580.6 L1536.1,578.0 L1538.4,565.2 L1540.4,583.2 L1543.0,601.2 L1546.4,572.9 L1548.2,593.5 L1550.7,624.4 L1553.3,617.9 L1555.9,606.4 L1557.7,619.2 L1559.2,602.5 L1561.0,617.9 L1563.6,583.2 L1566.2,547.2 L1568.0,481.6 L1569.5,511.2 L1571.3,508.6 L1573.9,580.6 L1576.5,554.9 L1579.0,525.3 L1580.8,547.2 L1582.4,585.8 L1584.2,583.2 L1586.8,614.1 L1589.8,645.5 L1589.8,645.5 Z" fill="none" stroke="#c59ad6" stroke-width="2.3" stroke-linejoin="round"/>
<path d="M1418.1,645.5 L1418.1,643.9 L1421.7,641.5 L1424.1,637.8 L1427.1,631.8 L1429.5,629.3 L1431.9,626.9 L1433.9,613.6 L1436.3,614.8 L1438.2,606.3 L1440.7,591.7 L1442.4,590.5 L1444.1,574.7 L1445.3,575.9 L1447.2,557.7 L1448.4,577.1 L1450.9,625.7 L1453.8,628.1 L1455.7,623.3 L1457.7,618.4 L1459.4,633.0 L1461.8,631.8 L1463.5,628.6 L1465.4,631.8 L1469.8,620.8 L1472.2,591.7 L1474.7,565.0 L1476.4,543.6 L1478.1,577.1 L1479.5,589.3 L1481.2,601.4 L1482.9,625.7 L1484.8,620.8 L1487.8,626.9 L1490.2,609.9 L1492.1,616.0 L1494.6,582.0 L1496.5,552.9 L1498.9,533.9 L1500.6,543.1 L1502.3,540.7 L1503.7,593.5 L1505.2,598.6 L1507.0,567.8 L1508.8,608.9 L1510.9,593.5 L1512.9,612.8 L1515.5,590.9 L1518.1,576.8 L1520.6,610.2 L1521.9,601.2 L1523.7,634.7 L1526.3,583.2 L1528.4,603.8 L1530.9,585.8 L1534.0,580.6 L1536.1,578.0 L1538.4,565.2 L1540.4,583.2 L1543.0,601.2 L1546.4,572.9 L1548.2,593.5 L1550.7,624.4 L1553.3,617.9 L1555.9,606.4 L1557.7,619.2 L1559.2,602.5 L1561.0,617.9 L1563.6,583.2 L1566.2,547.2 L1568.0,481.6 L1569.5,511.2 L1571.3,508.6 L1573.9,580.6 L1576.5,554.9 L1579.0,525.3 L1580.8,547.2 L1582.4,585.8 L1584.2,583.2 L1586.8,614.1 L1589.8,645.5 L1589.8,645.5 Z" fill="#8CF53C" stroke="#1c0c1c" stroke-width="1.0" stroke-linejoin="round"/>
<path d="M1633.3,645.5 L1636.4,606.4 L1639.5,567.1 L1640.5,546.4 L1642.0,505.0 L1642.6,371.0 L1643.4,415.0 L1644.2,471.0 L1645.0,405.0 L1646.0,369.0 L1647.0,395.0 L1648.0,425.0 L1649.8,518.5 L1651.0,493.0 L1654.0,485.0 L1656.0,412.0 L1657.0,445.0 L1658.5,523.6 L1660.6,505.0 L1661.0,461.0 L1662.6,485.0 L1663.3,529.8 L1665.4,513.3 L1667.4,536.0 L1669.5,575.4 L1673.7,594.0 L1677.5,645.5" fill="none" stroke="#404040" stroke-width="1.3" stroke-linejoin="round"/>
<line x1="1506.5" y1="364.3" x2="1506.5" y2="645.5" stroke="#7a0a14" stroke-width="1.9" stroke-dasharray="4.2 3.66"/>
<rect x="1415.7" y="364.8" width="347.6" height="280.7" fill="none" stroke="#000" stroke-width="1.85"/>
<text x="1415.7" y="669" font-size="22" text-anchor="middle">−6</text>
<line x1="1444.7" y1="645.5" x2="1444.7" y2="640.5" stroke="#000" stroke-width="1.7"/>
<text x="1444.7" y="669" font-size="22" text-anchor="middle">−5</text>
<line x1="1473.6" y1="645.5" x2="1473.6" y2="640.5" stroke="#000" stroke-width="1.7"/>
<text x="1473.6" y="669" font-size="22" text-anchor="middle">−4</text>
<line x1="1502.6" y1="645.5" x2="1502.6" y2="640.5" stroke="#000" stroke-width="1.7"/>
<text x="1502.6" y="669" font-size="22" text-anchor="middle">−3</text>
<line x1="1531.6" y1="645.5" x2="1531.6" y2="640.5" stroke="#000" stroke-width="1.7"/>
<text x="1531.6" y="669" font-size="22" text-anchor="middle">−2</text>
<line x1="1560.5" y1="645.5" x2="1560.5" y2="640.5" stroke="#000" stroke-width="1.7"/>
<text x="1560.5" y="669" font-size="22" text-anchor="middle">−1</text>
<line x1="1589.5" y1="645.5" x2="1589.5" y2="640.5" stroke="#000" stroke-width="1.7"/>
<text x="1589.5" y="669" font-size="22" text-anchor="middle">0</text>
<line x1="1618.5" y1="645.5" x2="1618.5" y2="640.5" stroke="#000" stroke-width="1.7"/>
<text x="1618.5" y="669" font-size="22" text-anchor="middle">1</text>
<line x1="1647.4" y1="645.5" x2="1647.4" y2="640.5" stroke="#000" stroke-width="1.7"/>
<text x="1647.4" y="669" font-size="22" text-anchor="middle">2</text>
<line x1="1676.4" y1="645.5" x2="1676.4" y2="640.5" stroke="#000" stroke-width="1.7"/>
<text x="1676.4" y="669" font-size="22" text-anchor="middle">3</text>
<line x1="1705.4" y1="645.5" x2="1705.4" y2="640.5" stroke="#000" stroke-width="1.7"/>
<text x="1705.4" y="669" font-size="22" text-anchor="middle">4</text>
<line x1="1734.3" y1="645.5" x2="1734.3" y2="640.5" stroke="#000" stroke-width="1.7"/>
<text x="1734.3" y="669" font-size="22" text-anchor="middle">5</text>
<text x="1763.3" y="669" font-size="22" text-anchor="middle">6</text>
<text x="1408.7" y="651.4" font-size="18" text-anchor="end">0</text>
<line x1="1415.7" y1="623.0" x2="1420.7" y2="623.0" stroke="#000" stroke-width="1.7"/>
<text x="1408.7" y="628.9" font-size="18" text-anchor="end">2</text>
<line x1="1415.7" y1="600.6" x2="1420.7" y2="600.6" stroke="#000" stroke-width="1.7"/>
<text x="1408.7" y="606.5" font-size="18" text-anchor="end">4</text>
<line x1="1415.7" y1="578.1" x2="1420.7" y2="578.1" stroke="#000" stroke-width="1.7"/>
<text x="1408.7" y="584.0" font-size="18" text-anchor="end">6</text>
<line x1="1415.7" y1="555.7" x2="1420.7" y2="555.7" stroke="#000" stroke-width="1.7"/>
<text x="1408.7" y="561.6" font-size="18" text-anchor="end">8</text>
<line x1="1415.7" y1="533.2" x2="1420.7" y2="533.2" stroke="#000" stroke-width="1.7"/>
<text x="1408.7" y="539.1" font-size="18" text-anchor="end">10</text>
<line x1="1415.7" y1="510.7" x2="1420.7" y2="510.7" stroke="#000" stroke-width="1.7"/>
<text x="1408.7" y="516.6" font-size="18" text-anchor="end">12</text>
<line x1="1415.7" y1="488.3" x2="1420.7" y2="488.3" stroke="#000" stroke-width="1.7"/>
<text x="1408.7" y="494.2" font-size="18" text-anchor="end">14</text>
<line x1="1415.7" y1="465.8" x2="1420.7" y2="465.8" stroke="#000" stroke-width="1.7"/>
<text x="1408.7" y="471.7" font-size="18" text-anchor="end">16</text>
<line x1="1415.7" y1="443.4" x2="1420.7" y2="443.4" stroke="#000" stroke-width="1.7"/>
<text x="1408.7" y="449.3" font-size="18" text-anchor="end">18</text>
<line x1="1415.7" y1="420.9" x2="1420.7" y2="420.9" stroke="#000" stroke-width="1.7"/>
<text x="1408.7" y="426.8" font-size="18" text-anchor="end">20</text>
<line x1="1415.7" y1="398.4" x2="1420.7" y2="398.4" stroke="#000" stroke-width="1.7"/>
<text x="1408.7" y="404.3" font-size="18" text-anchor="end">22</text>
<line x1="1415.7" y1="376.0" x2="1420.7" y2="376.0" stroke="#000" stroke-width="1.7"/>
<text x="1408.7" y="381.9" font-size="18" text-anchor="end">24</text>
<text x="1589.9" y="691.5" font-size="22.8" text-anchor="middle" textLength="126.5" lengthAdjust="spacingAndGlyphs">Energe (eV)</text>
<text transform="translate(1380.7,503.5) rotate(-90)" font-size="22.8" text-anchor="middle" textLength="175.5" lengthAdjust="spacingAndGlyphs">PDOS(states/eV)</text>
<text x="1469.2" y="439.3" font-size="32" font-style="italic">ε</text>
<text x="1483.2" y="446.8" font-size="21" font-style="italic">p</text>
<text x="1525.3" y="414" font-size="23.5" font-weight="bold" fill="#D70000" textLength="87.5" lengthAdjust="spacingAndGlyphs"><tspan font-style="italic">ε</tspan> = −2.89</text>
<text x="1702.1" y="411.5" font-size="36.5">(e)</text>
</svg>
</body></html>
